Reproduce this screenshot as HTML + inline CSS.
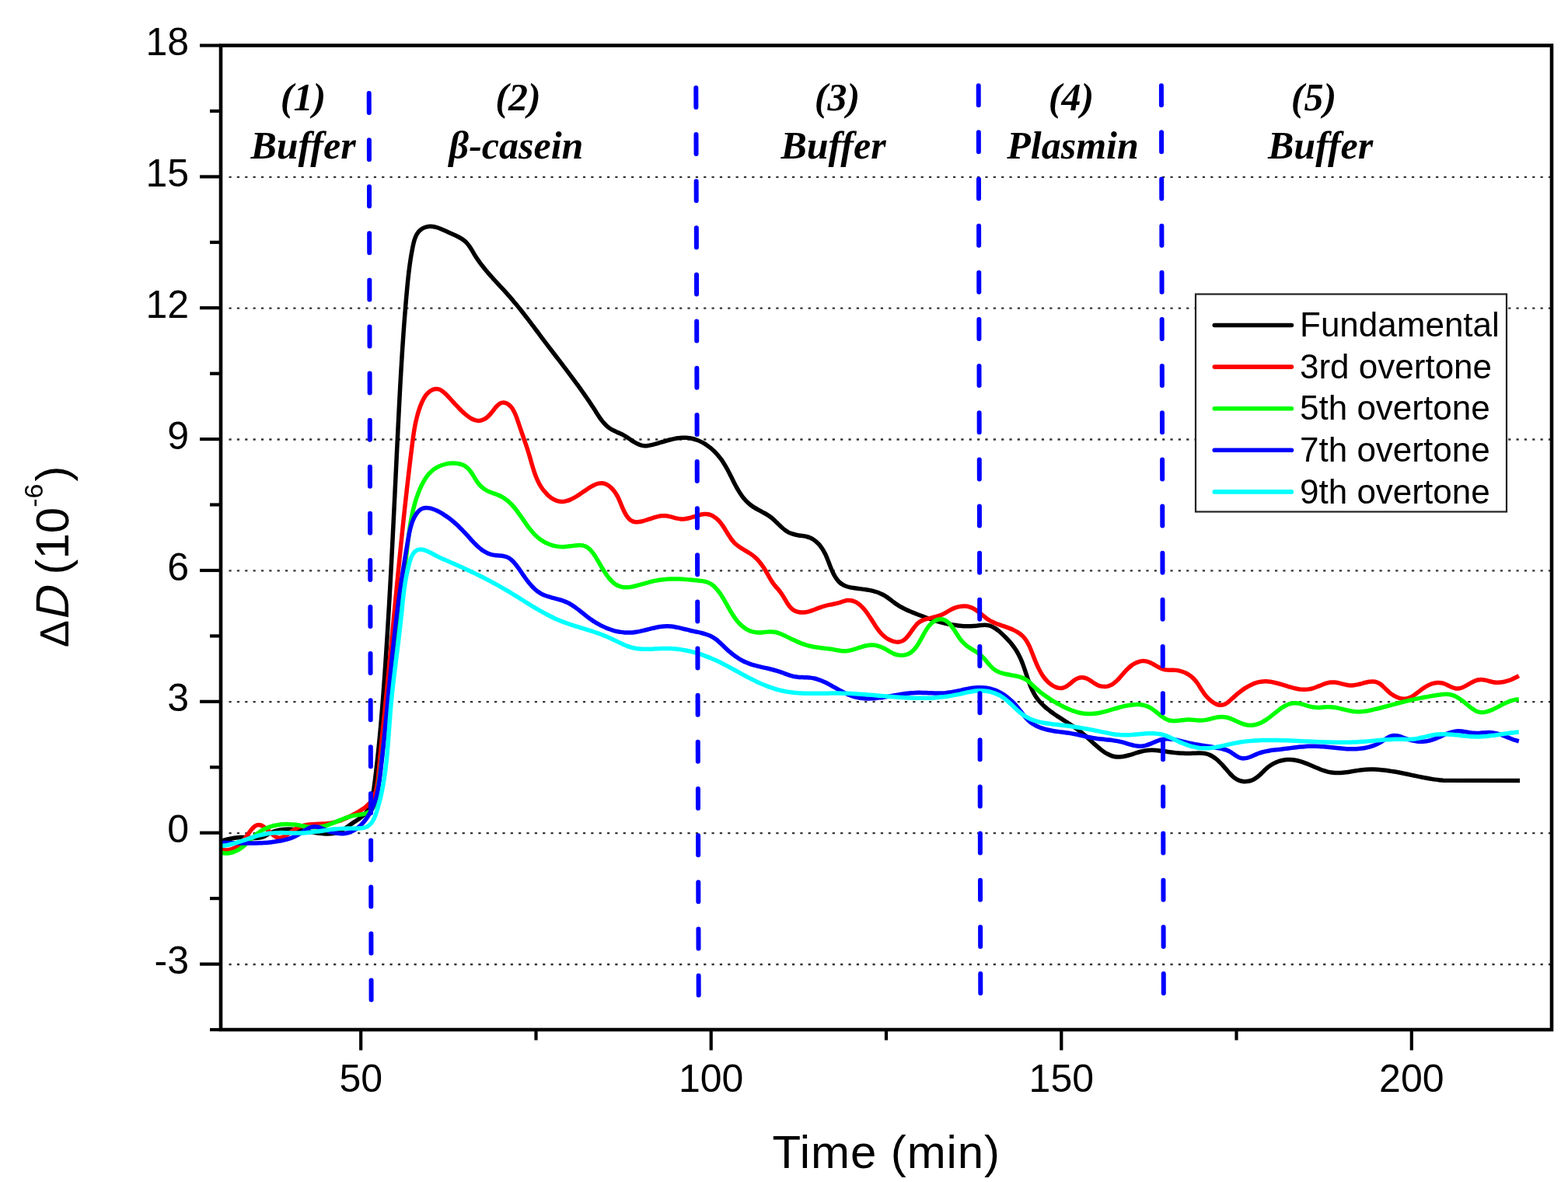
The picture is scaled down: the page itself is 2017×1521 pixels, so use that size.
<!DOCTYPE html><html><head><meta charset="utf-8"><style>html,body{margin:0;padding:0;background:#fff}svg{display:block}</style></head><body>
<svg width="2017" height="1521" viewBox="0 0 2017 1521">
<rect width="2017" height="1521" fill="#fff"/>
<line x1="294.5" y1="1241.0" x2="1994" y2="1241.0" stroke="#333" stroke-width="2.3" stroke-dasharray="3.2 7.15"/>
<line x1="294.5" y1="1072.1" x2="1994" y2="1072.1" stroke="#333" stroke-width="2.3" stroke-dasharray="3.2 7.15"/>
<line x1="294.5" y1="903.2" x2="1994" y2="903.2" stroke="#333" stroke-width="2.3" stroke-dasharray="3.2 7.15"/>
<line x1="294.5" y1="734.4" x2="1994" y2="734.4" stroke="#333" stroke-width="2.3" stroke-dasharray="3.2 7.15"/>
<line x1="294.5" y1="565.5" x2="1994" y2="565.5" stroke="#333" stroke-width="2.3" stroke-dasharray="3.2 7.15"/>
<line x1="294.5" y1="396.6" x2="1994" y2="396.6" stroke="#333" stroke-width="2.3" stroke-dasharray="3.2 7.15"/>
<line x1="294.5" y1="227.8" x2="1994" y2="227.8" stroke="#333" stroke-width="2.3" stroke-dasharray="3.2 7.15"/>
<path d="M284.22,1082.18C285.04,1081.96 287.47,1081.29 289.10,1080.88C290.73,1080.46 292.36,1080.05 294.00,1079.68C295.63,1079.32 297.27,1078.97 298.92,1078.67C300.56,1078.38 302.21,1078.12 303.87,1077.94C305.53,1077.75 307.19,1077.61 308.86,1077.55C310.53,1077.49 312.20,1077.53 313.88,1077.60C315.56,1077.66 317.25,1077.84 318.93,1077.97C320.61,1078.10 322.29,1078.28 323.96,1078.37C325.62,1078.46 327.28,1078.56 328.91,1078.52C330.55,1078.47 332.17,1078.38 333.76,1078.10C335.35,1077.82 336.92,1077.41 338.45,1076.83C339.99,1076.25 341.48,1075.41 342.98,1074.63C344.48,1073.85 345.96,1072.91 347.46,1072.16C348.96,1071.41 350.47,1070.71 352.01,1070.12C353.54,1069.54 355.08,1069.06 356.64,1068.65C358.20,1068.25 359.78,1067.94 361.36,1067.69C362.95,1067.44 364.55,1067.28 366.15,1067.17C367.76,1067.06 369.38,1067.02 371.01,1067.03C372.63,1067.03 374.27,1067.10 375.92,1067.20C377.56,1067.30 379.21,1067.46 380.87,1067.63C382.52,1067.81 384.19,1068.03 385.85,1068.26C387.52,1068.49 389.19,1068.76 390.86,1069.02C392.53,1069.29 394.21,1069.58 395.89,1069.85C397.56,1070.13 399.24,1070.42 400.92,1070.70C402.59,1070.97 404.27,1071.24 405.94,1071.48C407.62,1071.73 409.29,1071.96 410.96,1072.16C412.62,1072.35 414.29,1072.53 415.95,1072.66C417.61,1072.78 419.26,1072.89 420.91,1072.92C422.55,1072.94 424.19,1072.94 425.80,1072.81C427.41,1072.68 429.01,1072.49 430.57,1072.15C432.13,1071.80 433.65,1071.32 435.15,1070.73C436.65,1070.14 438.11,1069.40 439.57,1068.61C441.02,1067.81 442.45,1066.90 443.88,1065.97C445.31,1065.04 446.72,1064.03 448.14,1063.04C449.57,1062.04 450.99,1061.00 452.42,1060.00C453.86,1059.00 455.33,1058.03 456.77,1057.05C458.21,1056.08 459.67,1055.13 461.06,1054.15C462.45,1053.16 463.84,1052.18 465.11,1051.14C466.39,1050.09 467.63,1049.03 468.73,1047.88C469.84,1046.74 470.85,1045.53 471.76,1044.26C472.67,1042.99 473.48,1041.65 474.21,1040.27C474.95,1038.88 475.59,1037.44 476.17,1035.97C476.76,1034.49 477.26,1032.96 477.72,1031.41C478.18,1029.86 478.57,1028.26 478.93,1026.65C479.29,1025.03 479.59,1023.39 479.88,1021.73C480.17,1020.08 480.42,1018.40 480.66,1016.72C480.90,1015.04 481.12,1013.35 481.35,1011.67C481.57,1009.98 481.78,1008.29 482.00,1006.61C482.21,1004.92 482.43,1003.24 482.64,1001.56C482.84,999.87 483.05,998.19 483.25,996.51C483.46,994.83 483.66,993.15 483.86,991.47C484.05,989.79 484.25,988.11 484.44,986.43C484.63,984.76 484.82,983.08 485.01,981.40C485.20,979.73 485.38,978.05 485.56,976.38C485.75,974.70 485.93,973.03 486.10,971.35C486.28,969.68 486.46,968.01 486.63,966.33C486.80,964.66 486.97,962.99 487.14,961.32C487.31,959.65 487.47,957.98 487.64,956.31C487.80,954.64 487.96,952.97 488.12,951.30C488.28,949.63 488.44,947.96 488.60,946.29C488.75,944.62 488.91,942.96 489.06,941.29C489.21,939.62 489.36,937.96 489.51,936.29C489.66,934.62 489.80,932.96 489.95,931.29C490.09,929.62 490.24,927.96 490.38,926.29C490.52,924.63 490.66,922.96 490.80,921.30C490.94,919.63 491.08,917.97 491.21,916.31C491.35,914.64 491.48,912.98 491.62,911.31C491.75,909.65 491.88,907.99 492.01,906.32C492.14,904.66 492.27,902.99 492.40,901.33C492.53,899.67 492.65,898.00 492.78,896.34C492.91,894.68 493.03,893.01 493.16,891.35C493.28,889.69 493.40,888.02 493.53,886.36C493.65,884.70 493.77,883.03 493.89,881.37C494.01,879.71 494.13,878.04 494.25,876.38C494.37,874.71 494.49,873.05 494.61,871.39C494.72,869.72 494.84,868.06 494.96,866.39C495.07,864.73 495.19,863.06 495.30,861.40C495.42,859.73 495.53,858.07 495.65,856.40C495.76,854.74 495.87,853.07 495.99,851.41C496.10,849.74 496.21,848.08 496.32,846.41C496.43,844.75 496.54,843.08 496.65,841.42C496.76,839.75 496.87,838.09 496.98,836.42C497.09,834.75 497.19,833.09 497.30,831.42C497.41,829.76 497.52,828.09 497.62,826.42C497.73,824.76 497.83,823.09 497.94,821.43C498.04,819.76 498.15,818.09 498.25,816.43C498.35,814.76 498.46,813.09 498.56,811.43C498.66,809.76 498.76,808.09 498.87,806.42C498.97,804.76 499.07,803.09 499.17,801.42C499.27,799.76 499.37,798.09 499.47,796.42C499.57,794.75 499.67,793.09 499.76,791.42C499.86,789.75 499.96,788.08 500.06,786.42C500.16,784.75 500.25,783.08 500.35,781.41C500.45,779.74 500.54,778.08 500.64,776.41C500.73,774.74 500.83,773.07 500.92,771.40C501.02,769.73 501.11,768.07 501.20,766.40C501.30,764.73 501.39,763.06 501.48,761.39C501.58,759.72 501.67,758.05 501.76,756.39C501.85,754.72 501.95,753.05 502.04,751.38C502.13,749.71 502.22,748.04 502.31,746.37C502.40,744.70 502.49,743.03 502.58,741.36C502.67,739.69 502.76,738.02 502.85,736.36C502.94,734.69 503.03,733.02 503.12,731.35C503.20,729.68 503.29,728.01 503.38,726.34C503.47,724.67 503.55,723.00 503.64,721.33C503.73,719.66 503.82,717.99 503.90,716.32C503.99,714.65 504.08,712.98 504.16,711.31C504.25,709.64 504.33,707.97 504.42,706.30C504.50,704.63 504.59,702.96 504.67,701.29C504.76,699.62 504.84,697.94 504.93,696.27C505.01,694.60 505.10,692.93 505.18,691.26C505.26,689.59 505.35,687.92 505.43,686.25C505.52,684.58 505.60,682.91 505.68,681.24C505.77,679.57 505.85,677.89 505.93,676.22C506.01,674.55 506.10,672.88 506.18,671.21C506.26,669.54 506.34,667.87 506.43,666.20C506.51,664.53 506.59,662.85 506.67,661.18C506.75,659.51 506.84,657.84 506.92,656.17C507.00,654.50 507.08,652.83 507.16,651.15C507.24,649.48 507.32,647.81 507.41,646.14C507.49,644.47 507.57,642.80 507.65,641.12C507.73,639.45 507.81,637.78 507.89,636.11C507.97,634.44 508.05,632.76 508.13,631.09C508.22,629.42 508.30,627.75 508.38,626.08C508.46,624.40 508.54,622.73 508.62,621.06C508.70,619.39 508.78,617.72 508.86,616.04C508.94,614.37 509.02,612.70 509.10,611.03C509.18,609.35 509.26,607.68 509.34,606.01C509.42,604.34 509.50,602.66 509.58,600.99C509.66,599.32 509.75,597.65 509.83,595.97C509.91,594.30 509.99,592.63 510.07,590.96C510.15,589.28 510.23,587.61 510.31,585.94C510.39,584.27 510.47,582.59 510.55,580.92C510.63,579.25 510.72,577.58 510.80,575.90C510.88,574.23 510.96,572.56 511.04,570.89C511.12,569.21 511.20,567.54 511.28,565.87C511.37,564.19 511.45,562.52 511.53,560.85C511.61,559.18 511.69,557.50 511.78,555.83C511.86,554.16 511.94,552.48 512.02,550.81C512.11,549.14 512.19,547.47 512.27,545.79C512.35,544.12 512.44,542.45 512.52,540.77C512.60,539.10 512.69,537.43 512.77,535.76C512.86,534.08 512.94,532.41 513.03,530.74C513.11,529.07 513.20,527.39 513.28,525.72C513.37,524.05 513.45,522.38 513.54,520.70C513.63,519.03 513.71,517.36 513.80,515.69C513.89,514.01 513.97,512.34 514.06,510.67C514.15,509.00 514.24,507.33 514.33,505.66C514.42,503.98 514.51,502.31 514.60,500.64C514.69,498.97 514.78,497.30 514.87,495.63C514.97,493.96 515.06,492.29 515.15,490.62C515.25,488.95 515.34,487.28 515.43,485.61C515.53,483.94 515.63,482.27 515.72,480.60C515.82,478.93 515.92,477.26 516.01,475.59C516.11,473.92 516.21,472.25 516.31,470.58C516.41,468.92 516.51,467.25 516.61,465.58C516.71,463.91 516.82,462.24 516.92,460.58C517.02,458.91 517.13,457.24 517.23,455.58C517.34,453.91 517.45,452.24 517.55,450.58C517.66,448.91 517.77,447.25 517.88,445.58C517.99,443.92 518.10,442.25 518.21,440.59C518.32,438.92 518.44,437.26 518.55,435.59C518.67,433.93 518.78,432.27 518.90,430.60C519.02,428.94 519.13,427.28 519.25,425.62C519.37,423.95 519.49,422.29 519.62,420.63C519.74,418.97 519.86,417.31 519.99,415.65C520.11,413.99 520.24,412.33 520.36,410.67C520.49,409.01 520.62,407.35 520.75,405.70C520.88,404.04 521.01,402.38 521.15,400.72C521.28,399.07 521.41,397.41 521.55,395.75C521.69,394.10 521.82,392.44 521.96,390.79C522.10,389.13 522.24,387.48 522.39,385.82C522.53,384.17 522.67,382.52 522.82,380.86C522.97,379.21 523.11,377.56 523.26,375.91C523.41,374.26 523.56,372.61 523.72,370.96C523.87,369.30 524.03,367.65 524.19,366.00C524.35,364.35 524.51,362.70 524.68,361.05C524.85,359.39 525.03,357.74 525.21,356.08C525.39,354.42 525.58,352.76 525.77,351.10C525.97,349.44 526.17,347.77 526.38,346.10C526.59,344.43 526.81,342.76 527.04,341.08C527.28,339.40 527.52,337.72 527.77,336.03C528.02,334.34 528.28,332.64 528.56,330.94C528.84,329.24 529.13,327.54 529.43,325.82C529.73,324.11 530.05,322.39 530.38,320.66C530.72,318.94 531.05,317.18 531.43,315.46C531.82,313.75 532.21,312.01 532.68,310.35C533.16,308.69 533.67,307.04 534.29,305.50C534.91,303.97 535.59,302.48 536.41,301.13C537.23,299.78 538.15,298.51 539.21,297.41C540.26,296.30 541.46,295.32 542.74,294.50C544.01,293.68 545.42,293.00 546.85,292.49C548.29,291.98 549.82,291.62 551.36,291.45C552.90,291.27 554.49,291.28 556.07,291.43C557.66,291.58 559.26,291.94 560.87,292.37C562.48,292.80 564.10,293.39 565.72,294.01C567.34,294.64 568.96,295.37 570.58,296.09C572.20,296.82 573.82,297.61 575.42,298.34C577.03,299.08 578.64,299.80 580.22,300.51C581.80,301.22 583.38,301.89 584.91,302.60C586.44,303.31 587.95,304.01 589.40,304.77C590.86,305.53 592.28,306.30 593.63,307.16C594.98,308.02 596.28,308.91 597.50,309.93C598.73,310.94 599.88,312.02 600.95,313.22C602.03,314.42 603.00,315.75 603.96,317.11C604.91,318.47 605.79,319.94 606.67,321.39C607.56,322.84 608.41,324.36 609.29,325.83C610.18,327.30 611.07,328.76 611.99,330.20C612.91,331.63 613.86,333.04 614.82,334.43C615.78,335.83 616.76,337.19 617.76,338.55C618.76,339.90 619.78,341.24 620.81,342.56C621.84,343.88 622.88,345.18 623.94,346.47C625.00,347.76 626.07,349.04 627.15,350.31C628.23,351.57 629.32,352.83 630.42,354.08C631.52,355.32 632.63,356.56 633.74,357.80C634.86,359.03 635.98,360.26 637.10,361.48C638.22,362.70 639.35,363.92 640.48,365.14C641.60,366.36 642.74,367.58 643.86,368.79C644.99,370.01 646.12,371.23 647.24,372.45C648.37,373.68 649.49,374.90 650.60,376.13C651.72,377.37 652.83,378.60 653.93,379.85C655.04,381.09 656.13,382.35 657.22,383.61C658.31,384.87 659.39,386.13 660.46,387.41C661.54,388.68 662.61,389.97 663.67,391.25C664.73,392.54 665.79,393.83 666.84,395.13C667.89,396.43 668.93,397.74 669.98,399.05C671.02,400.35 672.05,401.67 673.09,402.99C674.12,404.30 675.15,405.63 676.17,406.95C677.20,408.28 678.22,409.61 679.24,410.94C680.25,412.27 681.27,413.60 682.28,414.94C683.30,416.27 684.31,417.61 685.32,418.95C686.32,420.29 687.33,421.63 688.34,422.97C689.34,424.32 690.35,425.66 691.35,427.00C692.36,428.34 693.36,429.68 694.37,431.03C695.37,432.37 696.38,433.71 697.38,435.05C698.39,436.39 699.39,437.72 700.40,439.06C701.41,440.40 702.42,441.73 703.43,443.06C704.43,444.39 705.45,445.72 706.46,447.05C707.47,448.38 708.48,449.71 709.50,451.03C710.51,452.36 711.52,453.68 712.54,455.01C713.55,456.33 714.56,457.65 715.58,458.98C716.59,460.30 717.61,461.62 718.62,462.95C719.63,464.27 720.65,465.59 721.66,466.91C722.67,468.24 723.68,469.56 724.69,470.88C725.70,472.21 726.71,473.53 727.71,474.86C728.72,476.19 729.73,477.51 730.73,478.84C731.73,480.17 732.73,481.50 733.73,482.83C734.73,484.17 735.73,485.50 736.72,486.84C737.72,488.18 738.71,489.52 739.70,490.86C740.69,492.20 741.67,493.55 742.65,494.90C743.64,496.24 744.61,497.60 745.59,498.95C746.57,500.31 747.54,501.67 748.50,503.03C749.47,504.39 750.44,505.76 751.39,507.13C752.35,508.50 753.31,509.88 754.26,511.26C755.21,512.64 756.15,514.02 757.09,515.41C758.03,516.81 758.97,518.20 759.90,519.60C760.83,521.00 761.75,522.41 762.67,523.82C763.59,525.24 764.50,526.66 765.41,528.08C766.32,529.50 767.21,530.94 768.13,532.36C769.04,533.77 769.95,535.19 770.90,536.57C771.84,537.95 772.80,539.32 773.80,540.63C774.80,541.94 775.83,543.23 776.92,544.44C778.00,545.66 779.13,546.83 780.33,547.92C781.53,549.00 782.79,550.03 784.12,550.96C785.46,551.89 786.89,552.71 788.36,553.49C789.83,554.28 791.39,554.97 792.94,555.69C794.49,556.41 796.09,557.07 797.66,557.82C799.23,558.57 800.81,559.33 802.34,560.18C803.87,561.03 805.36,561.98 806.84,562.92C808.32,563.86 809.76,564.88 811.22,565.83C812.67,566.79 814.11,567.77 815.57,568.65C817.02,569.53 818.48,570.40 819.96,571.10C821.44,571.80 822.94,572.45 824.44,572.87C825.94,573.29 827.45,573.54 828.96,573.63C830.47,573.73 831.99,573.61 833.52,573.43C835.05,573.26 836.58,572.92 838.14,572.58C839.70,572.23 841.28,571.79 842.87,571.35C844.46,570.92 846.07,570.44 847.69,569.96C849.32,569.49 850.95,568.99 852.60,568.50C854.25,568.02 855.90,567.52 857.56,567.06C859.22,566.59 860.89,566.13 862.56,565.72C864.23,565.30 865.90,564.91 867.57,564.57C869.24,564.24 870.91,563.94 872.57,563.72C874.23,563.49 875.88,563.32 877.53,563.24C879.17,563.16 880.81,563.14 882.43,563.22C884.05,563.31 885.66,563.48 887.26,563.73C888.85,563.99 890.43,564.33 891.98,564.75C893.54,565.16 895.08,565.66 896.60,566.23C898.12,566.79 899.62,567.44 901.09,568.14C902.56,568.85 904.01,569.63 905.43,570.46C906.86,571.30 908.25,572.20 909.62,573.15C910.99,574.10 912.32,575.12 913.63,576.18C914.93,577.23 916.21,578.35 917.45,579.51C918.68,580.66 919.89,581.87 921.06,583.11C922.22,584.35 923.35,585.63 924.44,586.95C925.53,588.26 926.58,589.62 927.59,590.99C928.60,592.37 929.56,593.78 930.49,595.21C931.42,596.64 932.30,598.10 933.17,599.57C934.03,601.04 934.86,602.53 935.67,604.03C936.49,605.52 937.27,607.04 938.05,608.55C938.83,610.06 939.59,611.59 940.35,613.10C941.11,614.62 941.86,616.14 942.62,617.65C943.37,619.16 944.13,620.67 944.90,622.15C945.67,623.64 946.44,625.12 947.24,626.58C948.03,628.04 948.84,629.48 949.68,630.89C950.52,632.31 951.38,633.70 952.28,635.06C953.18,636.42 954.11,637.75 955.08,639.04C956.06,640.33 957.07,641.58 958.13,642.79C959.19,644.00 960.30,645.17 961.47,646.29C962.64,647.41 963.86,648.48 965.15,649.50C966.44,650.51 967.80,651.46 969.20,652.38C970.61,653.30 972.09,654.15 973.58,655.00C975.07,655.85 976.62,656.66 978.14,657.49C979.67,658.32 981.23,659.13 982.75,659.99C984.26,660.84 985.79,661.70 987.25,662.63C988.71,663.56 990.14,664.52 991.51,665.55C992.87,666.59 994.17,667.70 995.44,668.83C996.71,669.96 997.91,671.15 999.12,672.32C1000.33,673.49 1001.51,674.70 1002.70,675.85C1003.89,677.00 1005.07,678.16 1006.29,679.23C1007.51,680.30 1008.73,681.35 1010.01,682.28C1011.30,683.21 1012.61,684.09 1014.01,684.82C1015.40,685.56 1016.86,686.17 1018.37,686.70C1019.88,687.23 1021.46,687.64 1023.05,688.01C1024.64,688.38 1026.28,688.65 1027.92,688.92C1029.55,689.19 1031.22,689.37 1032.84,689.64C1034.46,689.91 1036.10,690.12 1037.64,690.52C1039.19,690.92 1040.70,691.42 1042.13,692.04C1043.57,692.66 1044.94,693.41 1046.26,694.25C1047.57,695.09 1048.83,696.04 1050.03,697.08C1051.22,698.11 1052.36,699.25 1053.44,700.45C1054.52,701.65 1055.54,702.94 1056.51,704.29C1057.48,705.63 1058.38,707.05 1059.24,708.52C1060.09,709.98 1060.88,711.51 1061.63,713.06C1062.38,714.61 1063.07,716.22 1063.75,717.83C1064.43,719.44 1065.06,721.09 1065.70,722.72C1066.34,724.36 1066.96,726.02 1067.60,727.65C1068.24,729.29 1068.87,730.92 1069.54,732.52C1070.22,734.11 1070.90,735.70 1071.64,737.22C1072.39,738.75 1073.16,740.24 1074.02,741.67C1074.87,743.09 1075.77,744.47 1076.77,745.75C1077.76,747.04 1078.83,748.28 1080.00,749.36C1081.17,750.44 1082.44,751.40 1083.79,752.22C1085.14,753.04 1086.59,753.68 1088.10,754.25C1089.60,754.82 1091.19,755.25 1092.81,755.64C1094.42,756.03 1096.10,756.31 1097.78,756.58C1099.45,756.85 1101.18,757.04 1102.87,757.26C1104.57,757.47 1106.28,757.66 1107.97,757.87C1109.65,758.09 1111.32,758.31 1112.98,758.56C1114.63,758.81 1116.27,759.08 1117.88,759.39C1119.50,759.70 1121.10,760.04 1122.67,760.43C1124.25,760.83 1125.81,761.26 1127.34,761.76C1128.87,762.26 1130.38,762.81 1131.86,763.44C1133.35,764.06 1134.81,764.75 1136.24,765.53C1137.67,766.31 1139.06,767.18 1140.45,768.10C1141.83,769.01 1143.19,770.03 1144.54,771.03C1145.90,772.03 1147.24,773.10 1148.59,774.12C1149.95,775.13 1151.30,776.17 1152.68,777.13C1154.06,778.09 1155.45,779.02 1156.87,779.87C1158.29,780.73 1159.74,781.52 1161.20,782.28C1162.66,783.04 1164.14,783.74 1165.63,784.43C1167.12,785.12 1168.63,785.77 1170.15,786.42C1171.66,787.07 1173.19,787.71 1174.72,788.34C1176.26,788.97 1177.80,789.60 1179.34,790.22C1180.89,790.84 1182.44,791.45 1184.00,792.05C1185.56,792.65 1187.13,793.24 1188.70,793.82C1190.27,794.39 1191.85,794.96 1193.44,795.51C1195.02,796.06 1196.61,796.59 1198.20,797.11C1199.80,797.63 1201.40,798.14 1203.00,798.62C1204.60,799.11 1206.21,799.57 1207.82,800.02C1209.43,800.47 1211.05,800.90 1212.66,801.30C1214.28,801.70 1215.90,802.09 1217.53,802.45C1219.15,802.81 1220.78,803.14 1222.41,803.45C1224.04,803.76 1225.67,804.05 1227.30,804.30C1228.93,804.56 1230.57,804.79 1232.21,804.99C1233.84,805.18 1235.48,805.35 1237.13,805.48C1238.78,805.61 1240.43,805.71 1242.09,805.76C1243.75,805.82 1245.41,805.84 1247.09,805.81C1248.76,805.78 1250.44,805.71 1252.14,805.60C1253.83,805.48 1255.54,805.29 1257.25,805.11C1258.96,804.93 1260.69,804.65 1262.38,804.51C1264.06,804.37 1265.76,804.21 1267.39,804.26C1269.01,804.31 1270.61,804.45 1272.15,804.81C1273.68,805.17 1275.15,805.75 1276.58,806.42C1278.01,807.10 1279.39,807.97 1280.74,808.88C1282.09,809.79 1283.39,810.84 1284.68,811.90C1285.98,812.95 1287.24,814.08 1288.49,815.21C1289.74,816.34 1290.97,817.50 1292.18,818.67C1293.39,819.85 1294.57,821.06 1295.73,822.29C1296.88,823.52 1298.01,824.77 1299.11,826.05C1300.20,827.33 1301.27,828.64 1302.29,829.97C1303.32,831.30 1304.32,832.66 1305.27,834.04C1306.22,835.43 1307.13,836.84 1308.00,838.27C1308.86,839.71 1309.68,841.18 1310.46,842.67C1311.23,844.16 1311.96,845.68 1312.65,847.21C1313.35,848.75 1313.99,850.31 1314.62,851.88C1315.25,853.45 1315.84,855.05 1316.42,856.64C1317.00,858.24 1317.55,859.85 1318.10,861.46C1318.65,863.07 1319.18,864.70 1319.72,866.31C1320.26,867.92 1320.79,869.54 1321.33,871.15C1321.87,872.75 1322.41,874.36 1322.98,875.94C1323.54,877.53 1324.11,879.11 1324.72,880.67C1325.33,882.22 1325.95,883.77 1326.61,885.28C1327.27,886.80 1327.96,888.30 1328.70,889.76C1329.44,891.22 1330.22,892.66 1331.05,894.06C1331.88,895.46 1332.76,896.83 1333.70,898.16C1334.65,899.49 1335.65,900.78 1336.71,902.03C1337.76,903.28 1338.88,904.49 1340.04,905.67C1341.20,906.85 1342.41,908.00 1343.65,909.12C1344.89,910.23 1346.18,911.32 1347.49,912.38C1348.80,913.44 1350.14,914.48 1351.50,915.49C1352.87,916.50 1354.26,917.49 1355.65,918.47C1357.05,919.44 1358.47,920.39 1359.89,921.34C1361.30,922.28 1362.73,923.20 1364.15,924.12C1365.57,925.03 1366.99,925.94 1368.40,926.84C1369.81,927.74 1371.21,928.62 1372.59,929.51C1373.97,930.40 1375.32,931.29 1376.67,932.18C1378.01,933.07 1379.33,933.95 1380.64,934.86C1381.95,935.76 1383.25,936.67 1384.54,937.61C1385.83,938.54 1387.11,939.48 1388.38,940.46C1389.66,941.44 1390.93,942.43 1392.21,943.46C1393.48,944.50 1394.75,945.56 1396.04,946.66C1397.32,947.77 1398.60,948.92 1399.89,950.09C1401.19,951.27 1402.49,952.49 1403.80,953.70C1405.11,954.91 1406.43,956.15 1407.76,957.36C1409.09,958.56 1410.43,959.78 1411.78,960.94C1413.14,962.11 1414.50,963.26 1415.88,964.33C1417.26,965.41 1418.66,966.46 1420.07,967.41C1421.48,968.36 1422.90,969.26 1424.35,970.04C1425.79,970.82 1427.25,971.53 1428.73,972.10C1430.21,972.68 1431.70,973.16 1433.22,973.48C1434.74,973.80 1436.28,973.99 1437.84,974.05C1439.40,974.11 1440.98,974.01 1442.57,973.84C1444.16,973.66 1445.77,973.36 1447.39,973.02C1449.01,972.67 1450.65,972.23 1452.29,971.77C1453.93,971.31 1455.58,970.79 1457.23,970.28C1458.89,969.77 1460.55,969.22 1462.21,968.71C1463.86,968.21 1465.53,967.70 1467.18,967.26C1468.84,966.83 1470.50,966.41 1472.14,966.10C1473.79,965.79 1475.43,965.55 1477.07,965.40C1478.70,965.25 1480.33,965.20 1481.95,965.20C1483.57,965.21 1485.18,965.30 1486.80,965.41C1488.41,965.53 1490.02,965.72 1491.64,965.91C1493.25,966.11 1494.86,966.36 1496.48,966.59C1498.09,966.83 1499.71,967.10 1501.34,967.34C1502.96,967.58 1504.59,967.83 1506.23,968.04C1507.86,968.25 1509.51,968.45 1511.16,968.62C1512.81,968.79 1514.47,968.94 1516.14,969.06C1517.81,969.18 1519.48,969.28 1521.17,969.35C1522.85,969.42 1524.54,969.46 1526.24,969.48C1527.94,969.49 1529.65,969.48 1531.37,969.44C1533.09,969.40 1534.82,969.30 1536.54,969.24C1538.26,969.17 1540.00,969.06 1541.69,969.05C1543.39,969.04 1545.08,969.04 1546.71,969.18C1548.34,969.32 1549.95,969.52 1551.49,969.89C1553.03,970.26 1554.51,970.78 1555.95,971.40C1557.39,972.02 1558.78,972.78 1560.14,973.62C1561.50,974.46 1562.81,975.43 1564.10,976.45C1565.39,977.47 1566.64,978.60 1567.88,979.76C1569.12,980.93 1570.33,982.18 1571.54,983.45C1572.74,984.72 1573.93,986.05 1575.11,987.39C1576.30,988.73 1577.47,990.12 1578.66,991.47C1579.85,992.82 1581.04,994.21 1582.25,995.50C1583.47,996.79 1584.70,998.07 1585.98,999.20C1587.25,1000.33 1588.55,1001.40 1589.92,1002.27C1591.29,1003.15 1592.70,1003.90 1594.17,1004.44C1595.64,1004.99 1597.19,1005.34 1598.74,1005.54C1600.28,1005.74 1601.89,1005.75 1603.46,1005.61C1605.03,1005.48 1606.63,1005.17 1608.18,1004.73C1609.72,1004.28 1611.26,1003.68 1612.72,1002.94C1614.18,1002.21 1615.59,1001.31 1616.93,1000.33C1618.27,999.34 1619.52,998.19 1620.77,997.03C1622.02,995.88 1623.21,994.60 1624.44,993.39C1625.67,992.17 1626.87,990.90 1628.14,989.73C1629.42,988.57 1630.73,987.43 1632.10,986.40C1633.47,985.37 1634.91,984.42 1636.38,983.56C1637.85,982.69 1639.37,981.92 1640.91,981.23C1642.45,980.54 1644.04,979.94 1645.64,979.43C1647.23,978.93 1648.86,978.51 1650.49,978.19C1652.12,977.88 1653.77,977.65 1655.41,977.53C1657.05,977.40 1658.69,977.38 1660.32,977.45C1661.95,977.52 1663.57,977.71 1665.19,977.96C1666.80,978.22 1668.40,978.57 1670.00,978.98C1671.59,979.38 1673.18,979.87 1674.77,980.40C1676.35,980.92 1677.93,981.51 1679.50,982.11C1681.08,982.72 1682.65,983.37 1684.22,984.03C1685.79,984.68 1687.35,985.37 1688.92,986.04C1690.49,986.71 1692.05,987.40 1693.62,988.05C1695.19,988.71 1696.76,989.36 1698.33,989.96C1699.90,990.56 1701.48,991.15 1703.06,991.66C1704.64,992.18 1706.22,992.66 1707.81,993.06C1709.40,993.45 1711.00,993.79 1712.60,994.04C1714.21,994.29 1715.82,994.44 1717.44,994.53C1719.06,994.62 1720.69,994.62 1722.32,994.57C1723.96,994.52 1725.60,994.40 1727.24,994.25C1728.89,994.10 1730.54,993.89 1732.19,993.67C1733.85,993.45 1735.51,993.19 1737.17,992.93C1738.83,992.67 1740.50,992.39 1742.16,992.12C1743.83,991.86 1745.50,991.59 1747.16,991.35C1748.83,991.11 1750.50,990.89 1752.17,990.71C1753.84,990.53 1755.50,990.39 1757.17,990.28C1758.84,990.18 1760.50,990.12 1762.17,990.09C1763.83,990.06 1765.50,990.07 1767.16,990.11C1768.82,990.15 1770.49,990.22 1772.15,990.32C1773.81,990.42 1775.47,990.55 1777.13,990.70C1778.79,990.86 1780.45,991.04 1782.11,991.24C1783.77,991.44 1785.43,991.67 1787.08,991.91C1788.74,992.15 1790.40,992.41 1792.05,992.69C1793.71,992.97 1795.36,993.26 1797.02,993.56C1798.67,993.87 1800.32,994.19 1801.98,994.51C1803.63,994.84 1805.28,995.18 1806.93,995.52C1808.58,995.86 1810.23,996.20 1811.88,996.55C1813.53,996.90 1815.18,997.25 1816.83,997.60C1818.48,997.95 1820.13,998.31 1821.77,998.65C1823.42,999.00 1825.07,999.34 1826.71,999.67C1828.36,1000.01 1830.00,1000.33 1831.65,1000.65C1833.29,1000.96 1834.94,1001.27 1836.58,1001.56C1838.22,1001.85 1839.87,1002.13 1841.51,1002.39C1843.15,1002.65 1844.79,1002.90 1846.43,1003.12C1848.07,1003.34 1849.71,1003.54 1851.35,1003.72C1852.99,1003.90 1855.45,1004.10 1856.27,1004.18L1955,1004.5" fill="none" stroke="#000" stroke-width="5.5" stroke-linejoin="round" stroke-linecap="butt"/>
<path d="M283.75,1093.34C284.74,1093.44 287.84,1093.88 289.71,1093.90C291.57,1093.93 293.30,1093.77 294.94,1093.48C296.59,1093.19 298.11,1092.74 299.56,1092.18C301.02,1091.61 302.37,1090.90 303.67,1090.09C304.97,1089.29 306.19,1088.35 307.38,1087.33C308.57,1086.32 309.69,1085.19 310.80,1084.00C311.90,1082.81 312.96,1081.53 314.03,1080.20C315.09,1078.87 316.12,1077.47 317.18,1076.03C318.24,1074.60 319.28,1073.07 320.36,1071.61C321.44,1070.16 322.53,1068.62 323.66,1067.31C324.80,1066.01 325.94,1064.72 327.15,1063.79C328.35,1062.86 329.58,1062.06 330.87,1061.71C332.16,1061.37 333.52,1061.38 334.89,1061.73C336.27,1062.08 337.71,1062.92 339.10,1063.81C340.48,1064.70 341.85,1065.90 343.20,1067.07C344.55,1068.23 345.86,1069.59 347.19,1070.80C348.51,1072.01 349.81,1073.30 351.13,1074.34C352.45,1075.38 353.76,1076.38 355.10,1077.03C356.44,1077.67 357.79,1078.13 359.16,1078.20C360.54,1078.27 361.95,1077.95 363.37,1077.46C364.80,1076.96 366.25,1076.11 367.72,1075.23C369.19,1074.35 370.68,1073.22 372.19,1072.15C373.69,1071.09 375.22,1069.88 376.76,1068.84C378.31,1067.80 379.87,1066.77 381.43,1065.92C383.00,1065.07 384.59,1064.36 386.18,1063.75C387.78,1063.14 389.38,1062.66 390.99,1062.25C392.61,1061.84 394.23,1061.54 395.86,1061.28C397.48,1061.03 399.12,1060.86 400.75,1060.71C402.39,1060.57 404.03,1060.49 405.67,1060.41C407.32,1060.32 408.96,1060.29 410.60,1060.23C412.25,1060.17 413.89,1060.13 415.53,1060.04C417.17,1059.95 418.81,1059.87 420.44,1059.71C422.07,1059.56 423.69,1059.37 425.31,1059.11C426.93,1058.84 428.54,1058.51 430.14,1058.12C431.75,1057.72 433.34,1057.26 434.93,1056.75C436.52,1056.25 438.11,1055.68 439.68,1055.07C441.26,1054.47 442.83,1053.81 444.39,1053.13C445.96,1052.44 447.51,1051.72 449.06,1050.97C450.62,1050.22 452.17,1049.44 453.70,1048.65C455.24,1047.85 456.79,1047.04 458.30,1046.20C459.81,1045.36 461.31,1044.50 462.77,1043.60C464.22,1042.70 465.65,1041.77 467.02,1040.80C468.38,1039.83 469.71,1038.82 470.96,1037.77C472.20,1036.71 473.40,1035.61 474.49,1034.45C475.59,1033.29 476.61,1032.08 477.53,1030.80C478.45,1029.53 479.27,1028.19 480.01,1026.80C480.75,1025.42 481.39,1023.97 481.97,1022.48C482.55,1021.00 483.04,1019.46 483.48,1017.89C483.93,1016.33 484.30,1014.72 484.64,1013.09C484.98,1011.45 485.25,1009.79 485.51,1008.11C485.76,1006.43 485.97,1004.73 486.17,1003.02C486.36,1001.32 486.53,999.59 486.69,997.87C486.86,996.15 487.01,994.42 487.16,992.70C487.32,990.99 487.48,989.27 487.64,987.56C487.79,985.85 487.95,984.15 488.11,982.45C488.27,980.74 488.43,979.05 488.60,977.35C488.76,975.66 488.92,973.97 489.08,972.28C489.25,970.60 489.41,968.91 489.58,967.23C489.74,965.55 489.91,963.88 490.07,962.20C490.24,960.53 490.41,958.86 490.57,957.19C490.74,955.52 490.91,953.85 491.08,952.19C491.24,950.52 491.41,948.86 491.58,947.20C491.75,945.54 491.92,943.88 492.09,942.22C492.25,940.57 492.42,938.91 492.59,937.26C492.76,935.60 492.93,933.95 493.10,932.29C493.27,930.64 493.44,928.99 493.61,927.34C493.78,925.69 493.95,924.04 494.11,922.38C494.28,920.73 494.45,919.08 494.62,917.43C494.79,915.78 494.96,914.13 495.12,912.48C495.29,910.83 495.46,909.18 495.62,907.53C495.79,905.87 495.96,904.22 496.12,902.57C496.29,900.91 496.46,899.26 496.62,897.61C496.79,895.95 496.95,894.30 497.12,892.64C497.28,890.99 497.44,889.33 497.61,887.68C497.77,886.02 497.94,884.36 498.10,882.71C498.26,881.05 498.42,879.39 498.59,877.74C498.75,876.08 498.91,874.42 499.07,872.76C499.24,871.11 499.40,869.45 499.56,867.79C499.72,866.13 499.88,864.47 500.05,862.81C500.21,861.15 500.37,859.49 500.53,857.83C500.69,856.17 500.85,854.51 501.01,852.85C501.17,851.19 501.33,849.52 501.49,847.86C501.65,846.20 501.81,844.54 501.97,842.88C502.13,841.22 502.29,839.55 502.45,837.89C502.61,836.23 502.77,834.56 502.93,832.90C503.09,831.24 503.25,829.57 503.41,827.91C503.57,826.25 503.73,824.58 503.89,822.92C504.05,821.25 504.20,819.59 504.36,817.92C504.52,816.26 504.68,814.60 504.84,812.93C505.00,811.27 505.16,809.60 505.32,807.93C505.48,806.27 505.64,804.60 505.80,802.94C505.96,801.27 506.11,799.61 506.27,797.94C506.43,796.27 506.59,794.61 506.75,792.94C506.91,791.28 507.07,789.61 507.23,787.94C507.39,786.28 507.55,784.61 507.71,782.94C507.87,781.28 508.03,779.61 508.19,777.94C508.35,776.28 508.51,774.61 508.67,772.94C508.83,771.28 508.99,769.61 509.15,767.94C509.31,766.27 509.47,764.61 509.64,762.94C509.80,761.27 509.96,759.61 510.12,757.94C510.28,756.27 510.44,754.60 510.60,752.94C510.77,751.27 510.93,749.60 511.09,747.94C511.25,746.27 511.42,744.60 511.58,742.93C511.74,741.27 511.91,739.60 512.07,737.93C512.23,736.27 512.40,734.60 512.56,732.93C512.73,731.27 512.89,729.60 513.06,727.93C513.22,726.27 513.39,724.60 513.55,722.93C513.72,721.27 513.88,719.60 514.05,717.93C514.22,716.27 514.38,714.60 514.55,712.94C514.72,711.27 514.89,709.60 515.05,707.94C515.22,706.27 515.39,704.61 515.56,702.94C515.73,701.28 515.90,699.61 516.07,697.95C516.24,696.28 516.41,694.62 516.58,692.95C516.75,691.29 516.92,689.62 517.09,687.96C517.27,686.29 517.44,684.63 517.61,682.97C517.78,681.30 517.96,679.64 518.13,677.97C518.31,676.31 518.48,674.65 518.66,672.99C518.83,671.32 519.01,669.66 519.18,668.00C519.36,666.34 519.54,664.67 519.71,663.01C519.89,661.35 520.07,659.69 520.25,658.03C520.43,656.37 520.61,654.71 520.79,653.05C520.97,651.39 521.15,649.73 521.33,648.07C521.51,646.41 521.69,644.75 521.87,643.09C522.06,641.43 522.24,639.77 522.43,638.11C522.61,636.45 522.79,634.80 522.98,633.14C523.17,631.48 523.35,629.82 523.54,628.17C523.73,626.51 523.91,624.85 524.10,623.20C524.29,621.54 524.48,619.89 524.67,618.23C524.86,616.58 525.05,614.92 525.24,613.27C525.44,611.61 525.63,609.96 525.82,608.31C526.02,606.65 526.21,605.00 526.41,603.35C526.60,601.70 526.80,600.05 527.00,598.39C527.19,596.74 527.39,595.09 527.59,593.44C527.79,591.79 527.99,590.14 528.19,588.49C528.39,586.84 528.59,585.20 528.79,583.55C529.00,581.90 529.20,580.25 529.40,578.61C529.61,576.96 529.81,575.31 530.02,573.67C530.23,572.02 530.43,570.38 530.65,568.73C530.86,567.09 531.07,565.44 531.30,563.80C531.53,562.15 531.76,560.51 532.00,558.86C532.25,557.22 532.50,555.57 532.77,553.93C533.05,552.28 533.33,550.64 533.64,548.99C533.95,547.34 534.27,545.70 534.62,544.05C534.97,542.40 535.33,540.75 535.73,539.10C536.13,537.45 536.55,535.80 537.00,534.14C537.45,532.49 537.93,530.83 538.44,529.17C538.96,527.52 539.50,525.85 540.09,524.20C540.68,522.56 541.30,520.91 541.97,519.32C542.65,517.73 543.36,516.16 544.14,514.67C544.92,513.19 545.74,511.74 546.64,510.41C547.53,509.08 548.48,507.81 549.51,506.69C550.54,505.56 551.63,504.52 552.81,503.65C553.99,502.78 555.26,502.00 556.57,501.46C557.89,500.92 559.30,500.51 560.71,500.43C562.11,500.35 563.57,500.49 564.99,500.99C566.42,501.49 567.85,502.43 569.23,503.44C570.61,504.45 571.98,505.82 573.28,507.06C574.58,508.30 575.82,509.62 577.03,510.88C578.24,512.14 579.39,513.39 580.53,514.63C581.68,515.88 582.78,517.10 583.89,518.32C585.01,519.54 586.09,520.75 587.21,521.95C588.33,523.15 589.44,524.34 590.60,525.53C591.75,526.71 592.92,527.88 594.15,529.05C595.38,530.22 596.65,531.39 597.98,532.53C599.31,533.67 600.71,534.84 602.14,535.88C603.56,536.91 605.05,537.93 606.53,538.73C608.02,539.54 609.54,540.26 611.05,540.70C612.56,541.14 614.08,541.40 615.58,541.39C617.07,541.39 618.57,541.11 620.02,540.65C621.47,540.19 622.91,539.49 624.29,538.62C625.67,537.76 627.01,536.67 628.29,535.46C629.58,534.26 630.79,532.81 631.98,531.38C633.18,529.96 634.31,528.36 635.47,526.92C636.62,525.49 637.74,523.99 638.92,522.77C640.10,521.55 641.28,520.38 642.55,519.61C643.81,518.84 645.15,518.29 646.51,518.13C647.88,517.97 649.40,518.24 650.72,518.66C652.05,519.08 653.32,519.81 654.48,520.66C655.63,521.52 656.67,522.61 657.64,523.80C658.62,524.99 659.49,526.37 660.32,527.82C661.15,529.27 661.90,530.86 662.62,532.49C663.33,534.11 663.99,535.84 664.62,537.56C665.26,539.28 665.85,541.07 666.45,542.80C667.04,544.53 667.61,546.28 668.18,547.97C668.76,549.66 669.32,551.31 669.89,552.95C670.45,554.58 671.01,556.19 671.56,557.77C672.11,559.36 672.65,560.92 673.19,562.48C673.73,564.03 674.27,565.56 674.79,567.09C675.32,568.62 675.84,570.14 676.35,571.66C676.86,573.18 677.37,574.69 677.87,576.21C678.37,577.73 678.86,579.24 679.34,580.78C679.83,582.31 680.30,583.85 680.77,585.40C681.24,586.96 681.69,588.53 682.15,590.12C682.61,591.70 683.05,593.31 683.51,594.92C683.97,596.53 684.43,598.15 684.91,599.77C685.38,601.39 685.87,603.02 686.39,604.64C686.91,606.26 687.44,607.88 688.01,609.48C688.59,611.09 689.18,612.69 689.83,614.27C690.48,615.85 691.16,617.42 691.90,618.97C692.64,620.51 693.42,622.04 694.28,623.53C695.13,625.02 696.03,626.50 697.01,627.93C697.98,629.36 699.03,630.77 700.14,632.11C701.24,633.45 702.42,634.75 703.63,635.96C704.85,637.17 706.13,638.32 707.43,639.35C708.74,640.38 710.09,641.33 711.47,642.13C712.85,642.93 714.26,643.63 715.69,644.17C717.11,644.70 718.57,645.11 720.02,645.32C721.48,645.54 722.95,645.58 724.42,645.48C725.89,645.37 727.36,645.08 728.84,644.68C730.33,644.29 731.81,643.73 733.31,643.10C734.80,642.47 736.30,641.70 737.80,640.89C739.30,640.08 740.81,639.16 742.32,638.21C743.83,637.27 745.34,636.25 746.86,635.23C748.38,634.21 749.91,633.15 751.43,632.11C752.96,631.07 754.49,630.00 756.02,629.00C757.56,628.00 759.10,626.99 760.63,626.12C762.16,625.24 763.69,624.40 765.21,623.74C766.73,623.09 768.24,622.52 769.74,622.18C771.23,621.84 772.72,621.65 774.18,621.72C775.64,621.80 777.09,622.12 778.50,622.64C779.90,623.15 781.29,623.93 782.61,624.81C783.94,625.70 785.23,626.80 786.43,627.96C787.64,629.12 788.79,630.44 789.85,631.78C790.91,633.11 791.89,634.55 792.78,635.98C793.66,637.40 794.42,638.84 795.15,640.32C795.89,641.79 796.52,643.27 797.19,644.82C797.85,646.37 798.47,647.96 799.15,649.60C799.84,651.24 800.53,652.97 801.28,654.64C802.03,656.31 802.81,658.03 803.66,659.62C804.51,661.21 805.40,662.79 806.37,664.18C807.35,665.57 808.38,666.89 809.51,667.96C810.63,669.03 811.83,669.97 813.14,670.60C814.44,671.23 815.86,671.60 817.34,671.76C818.82,671.92 820.42,671.76 822.00,671.57C823.58,671.37 825.21,670.97 826.83,670.56C828.45,670.16 830.08,669.64 831.71,669.13C833.34,668.62 834.98,668.04 836.62,667.51C838.26,666.98 839.90,666.41 841.55,665.93C843.19,665.45 844.84,664.98 846.48,664.63C848.13,664.28 849.77,663.98 851.41,663.84C853.05,663.70 854.69,663.67 856.33,663.80C857.96,663.93 859.59,664.27 861.22,664.62C862.85,664.97 864.48,665.48 866.11,665.91C867.75,666.34 869.38,666.84 871.03,667.18C872.68,667.52 874.33,667.84 876.00,667.94C877.67,668.03 879.36,667.95 881.05,667.75C882.74,667.54 884.44,667.15 886.14,666.73C887.84,666.31 889.55,665.75 891.24,665.24C892.93,664.72 894.62,664.12 896.29,663.63C897.96,663.13 899.62,662.62 901.25,662.26C902.88,661.90 904.50,661.59 906.07,661.49C907.65,661.39 909.20,661.42 910.71,661.67C912.21,661.93 913.69,662.41 915.11,663.03C916.53,663.65 917.92,664.47 919.24,665.39C920.57,666.32 921.85,667.41 923.07,668.56C924.28,669.71 925.45,670.99 926.54,672.29C927.63,673.60 928.65,674.99 929.63,676.39C930.62,677.79 931.52,679.24 932.43,680.68C933.34,682.12 934.20,683.60 935.08,685.05C935.96,686.49 936.82,687.95 937.73,689.36C938.64,690.77 939.55,692.17 940.53,693.50C941.51,694.83 942.52,696.12 943.63,697.33C944.73,698.54 945.91,699.68 947.17,700.74C948.42,701.81 949.77,702.79 951.15,703.74C952.52,704.70 953.97,705.59 955.41,706.48C956.86,707.37 958.35,708.22 959.80,709.11C961.26,709.99 962.73,710.86 964.15,711.78C965.56,712.71 966.96,713.64 968.29,714.66C969.61,715.67 970.88,716.74 972.09,717.87C973.29,718.99 974.44,720.18 975.54,721.40C976.64,722.63 977.69,723.91 978.70,725.22C979.72,726.54 980.68,727.90 981.62,729.28C982.56,730.67 983.46,732.09 984.34,733.53C985.22,734.97 986.06,736.45 986.90,737.92C987.75,739.39 988.56,740.89 989.41,742.35C990.26,743.81 991.09,745.28 991.98,746.69C992.86,748.10 993.76,749.49 994.71,750.82C995.67,752.14 996.68,753.39 997.71,754.63C998.73,755.88 999.82,757.05 1000.87,758.30C1001.91,759.55 1002.98,760.78 1003.98,762.12C1004.98,763.46 1005.94,764.89 1006.87,766.36C1007.81,767.83 1008.68,769.41 1009.58,770.93C1010.49,772.46 1011.36,774.04 1012.31,775.51C1013.25,776.98 1014.19,778.45 1015.24,779.75C1016.28,781.05 1017.36,782.30 1018.57,783.33C1019.78,784.36 1021.09,785.24 1022.48,785.92C1023.87,786.61 1025.39,787.11 1026.92,787.46C1028.45,787.81 1030.07,787.98 1031.67,788.02C1033.28,788.05 1034.92,787.90 1036.53,787.66C1038.15,787.42 1039.77,787.01 1041.38,786.56C1042.99,786.12 1044.60,785.54 1046.21,784.97C1047.82,784.40 1049.42,783.75 1051.03,783.14C1052.63,782.53 1054.23,781.89 1055.84,781.33C1057.44,780.78 1059.04,780.25 1060.64,779.81C1062.25,779.36 1063.85,779.01 1065.46,778.66C1067.07,778.31 1068.68,778.03 1070.30,777.69C1071.93,777.36 1073.56,777.05 1075.21,776.65C1076.86,776.25 1078.53,775.78 1080.20,775.29C1081.87,774.79 1083.59,774.12 1085.25,773.67C1086.91,773.23 1088.57,772.76 1090.17,772.61C1091.77,772.46 1093.32,772.52 1094.82,772.76C1096.33,772.99 1097.78,773.46 1099.19,774.04C1100.60,774.63 1101.96,775.41 1103.28,776.29C1104.60,777.17 1105.87,778.21 1107.10,779.32C1108.33,780.42 1109.51,781.66 1110.65,782.93C1111.79,784.20 1112.89,785.56 1113.95,786.94C1115.01,788.32 1116.02,789.76 1117.01,791.20C1118.00,792.64 1118.96,794.12 1119.91,795.59C1120.86,797.06 1121.79,798.55 1122.72,800.02C1123.66,801.49 1124.58,802.96 1125.53,804.40C1126.48,805.84 1127.43,807.27 1128.42,808.64C1129.41,810.02 1130.41,811.37 1131.47,812.65C1132.53,813.93 1133.61,815.18 1134.76,816.33C1135.91,817.49 1137.09,818.60 1138.36,819.60C1139.63,820.60 1140.96,821.54 1142.37,822.36C1143.79,823.17 1145.30,823.93 1146.86,824.51C1148.41,825.09 1150.10,825.61 1151.72,825.86C1153.34,826.11 1155.03,826.23 1156.59,826.03C1158.15,825.83 1159.68,825.37 1161.08,824.65C1162.48,823.92 1163.77,822.84 1165.00,821.71C1166.22,820.57 1167.35,819.17 1168.44,817.82C1169.54,816.46 1170.54,814.98 1171.57,813.55C1172.59,812.12 1173.56,810.64 1174.59,809.25C1175.61,807.86 1176.62,806.46 1177.71,805.20C1178.81,803.94 1179.92,802.72 1181.16,801.69C1182.40,800.65 1183.72,799.75 1185.14,799.00C1186.56,798.25 1188.13,797.72 1189.70,797.20C1191.28,796.68 1192.95,796.31 1194.59,795.90C1196.23,795.48 1197.89,795.12 1199.52,794.70C1201.16,794.28 1202.79,793.86 1204.38,793.39C1205.98,792.92 1207.56,792.42 1209.10,791.85C1210.64,791.28 1212.15,790.66 1213.62,789.96C1215.09,789.25 1216.48,788.43 1217.90,787.61C1219.32,786.80 1220.67,785.86 1222.14,785.07C1223.60,784.27 1225.11,783.48 1226.69,782.84C1228.26,782.19 1229.92,781.63 1231.58,781.20C1233.24,780.76 1234.96,780.43 1236.65,780.25C1238.34,780.06 1240.06,779.99 1241.73,780.10C1243.39,780.20 1245.05,780.44 1246.63,780.86C1248.21,781.28 1249.74,781.89 1251.22,782.60C1252.70,783.32 1254.11,784.22 1255.51,785.15C1256.91,786.08 1258.26,787.15 1259.62,788.21C1260.97,789.27 1262.29,790.41 1263.63,791.50C1264.97,792.58 1266.29,793.71 1267.65,794.72C1269.01,795.74 1270.37,796.73 1271.78,797.61C1273.18,798.48 1274.61,799.26 1276.07,799.98C1277.52,800.71 1279.01,801.34 1280.51,801.96C1282.00,802.57 1283.53,803.12 1285.05,803.67C1286.58,804.22 1288.13,804.73 1289.68,805.26C1291.23,805.79 1292.79,806.31 1294.35,806.87C1295.91,807.43 1297.48,808.00 1299.02,808.62C1300.56,809.25 1302.11,809.90 1303.60,810.61C1305.09,811.32 1306.56,812.08 1307.96,812.90C1309.36,813.72 1310.73,814.59 1312.00,815.54C1313.28,816.50 1314.49,817.52 1315.60,818.62C1316.72,819.72 1317.73,820.91 1318.68,822.16C1319.64,823.41 1320.50,824.74 1321.32,826.11C1322.14,827.49 1322.89,828.93 1323.61,830.40C1324.33,831.88 1325.00,833.41 1325.66,834.96C1326.31,836.51 1326.93,838.11 1327.56,839.71C1328.19,841.31 1328.79,842.95 1329.42,844.58C1330.05,846.21 1330.69,847.85 1331.34,849.49C1332.00,851.12 1332.67,852.76 1333.38,854.37C1334.08,855.98 1334.80,857.59 1335.56,859.16C1336.32,860.72 1337.10,862.28 1337.93,863.78C1338.75,865.28 1339.61,866.75 1340.51,868.17C1341.42,869.58 1342.36,870.95 1343.36,872.25C1344.35,873.55 1345.39,874.80 1346.49,875.97C1347.60,877.13 1348.75,878.24 1349.96,879.24C1351.18,880.25 1352.45,881.19 1353.80,882.01C1355.14,882.83 1356.56,883.60 1358.00,884.16C1359.45,884.72 1360.96,885.19 1362.47,885.37C1363.97,885.55 1365.51,885.57 1367.01,885.25C1368.52,884.92 1370.01,884.26 1371.49,883.43C1372.96,882.60 1374.40,881.39 1375.86,880.26C1377.32,879.14 1378.76,877.78 1380.22,876.68C1381.69,875.58 1383.16,874.42 1384.67,873.65C1386.18,872.88 1387.73,872.33 1389.28,872.06C1390.83,871.79 1392.42,871.83 1393.99,872.06C1395.55,872.30 1397.13,872.80 1398.66,873.47C1400.20,874.14 1401.70,875.13 1403.19,876.08C1404.68,877.03 1406.12,878.26 1407.60,879.19C1409.09,880.12 1410.59,881.03 1412.11,881.68C1413.63,882.33 1415.19,882.81 1416.73,883.11C1418.26,883.40 1419.81,883.52 1421.32,883.47C1422.83,883.42 1424.33,883.19 1425.77,882.79C1427.21,882.39 1428.61,881.81 1429.95,881.08C1431.30,880.36 1432.57,879.44 1433.83,878.44C1435.08,877.44 1436.28,876.28 1437.48,875.09C1438.68,873.89 1439.84,872.58 1441.02,871.26C1442.19,869.95 1443.35,868.56 1444.54,867.21C1445.73,865.86 1446.92,864.47 1448.15,863.16C1449.39,861.85 1450.64,860.55 1451.95,859.36C1453.27,858.17 1454.63,857.04 1456.03,856.04C1457.44,855.04 1458.89,854.13 1460.36,853.37C1461.84,852.62 1463.35,851.98 1464.87,851.52C1466.38,851.06 1467.92,850.74 1469.45,850.63C1470.99,850.52 1472.53,850.58 1474.05,850.85C1475.58,851.13 1477.09,851.66 1478.60,852.26C1480.11,852.87 1481.60,853.69 1483.11,854.49C1484.62,855.29 1486.13,856.23 1487.65,857.06C1489.18,857.90 1490.70,858.79 1492.26,859.50C1493.82,860.21 1495.39,860.88 1497.00,861.32C1498.60,861.76 1500.25,861.97 1501.90,862.13C1503.55,862.29 1505.24,862.21 1506.91,862.25C1508.58,862.29 1510.27,862.24 1511.92,862.38C1513.58,862.52 1515.23,862.75 1516.84,863.10C1518.46,863.45 1520.05,863.93 1521.60,864.49C1523.14,865.06 1524.66,865.73 1526.11,866.49C1527.57,867.25 1528.98,868.12 1530.32,869.05C1531.66,869.99 1532.95,871.02 1534.16,872.12C1535.36,873.21 1536.49,874.40 1537.55,875.63C1538.61,876.86 1539.55,878.18 1540.50,879.52C1541.44,880.86 1542.30,882.27 1543.21,883.67C1544.11,885.08 1544.97,886.54 1545.92,887.97C1546.86,889.41 1547.80,890.87 1548.86,892.30C1549.92,893.72 1551.05,895.16 1552.27,896.51C1553.48,897.87 1554.80,899.22 1556.15,900.41C1557.51,901.61 1558.94,902.76 1560.38,903.70C1561.82,904.65 1563.32,905.49 1564.79,906.08C1566.27,906.68 1567.78,907.12 1569.25,907.27C1570.71,907.42 1572.18,907.35 1573.58,906.97C1574.99,906.60 1576.35,905.86 1577.70,905.02C1579.04,904.17 1580.34,903.02 1581.65,901.91C1582.96,900.79 1584.25,899.52 1585.57,898.34C1586.88,897.16 1588.21,895.97 1589.55,894.82C1590.88,893.68 1592.23,892.55 1593.60,891.46C1594.96,890.38 1596.33,889.32 1597.72,888.31C1599.11,887.31 1600.51,886.34 1601.93,885.43C1603.34,884.52 1604.77,883.66 1606.22,882.87C1607.66,882.08 1609.12,881.34 1610.60,880.69C1612.07,880.03 1613.56,879.44 1615.07,878.94C1616.58,878.44 1618.10,878.01 1619.64,877.68C1621.18,877.36 1622.74,877.11 1624.32,876.98C1625.89,876.84 1627.49,876.81 1629.10,876.87C1630.71,876.93 1632.34,877.10 1633.98,877.33C1635.62,877.56 1637.27,877.88 1638.94,878.24C1640.60,878.60 1642.27,879.03 1643.95,879.48C1645.63,879.93 1647.32,880.43 1649.01,880.93C1650.69,881.43 1652.39,881.97 1654.08,882.48C1655.77,882.98 1657.46,883.51 1659.14,883.99C1660.83,884.46 1662.51,884.94 1664.19,885.34C1665.86,885.75 1667.53,886.13 1669.18,886.43C1670.84,886.73 1672.48,886.98 1674.11,887.12C1675.74,887.27 1677.36,887.35 1678.96,887.30C1680.55,887.26 1682.13,887.10 1683.69,886.85C1685.26,886.59 1686.80,886.21 1688.34,885.77C1689.89,885.33 1691.42,884.79 1692.98,884.23C1694.53,883.67 1696.09,883.03 1697.67,882.41C1699.26,881.79 1700.87,881.10 1702.48,880.52C1704.09,879.94 1705.73,879.34 1707.36,878.91C1708.99,878.49 1710.63,878.12 1712.25,877.97C1713.88,877.82 1715.49,877.87 1717.11,878.02C1718.72,878.17 1720.32,878.54 1721.93,878.89C1723.54,879.24 1725.14,879.73 1726.75,880.13C1728.37,880.54 1729.98,881.00 1731.61,881.31C1733.25,881.62 1734.89,881.90 1736.55,881.97C1738.21,882.05 1739.89,881.95 1741.58,881.77C1743.26,881.58 1744.97,881.22 1746.66,880.86C1748.36,880.49 1750.06,880.01 1751.75,879.59C1753.43,879.16 1755.12,878.68 1756.78,878.30C1758.43,877.93 1760.08,877.55 1761.68,877.35C1763.29,877.14 1764.87,876.99 1766.41,877.06C1767.94,877.14 1769.45,877.33 1770.89,877.80C1772.34,878.26 1773.72,878.98 1775.08,879.88C1776.44,880.77 1777.72,881.98 1779.03,883.18C1780.34,884.37 1781.61,885.77 1782.93,887.04C1784.25,888.31 1785.59,889.63 1786.97,890.79C1788.35,891.95 1789.78,893.05 1791.22,894.02C1792.66,894.98 1794.14,895.86 1795.63,896.58C1797.12,897.30 1798.64,897.91 1800.16,898.35C1801.67,898.78 1803.21,899.08 1804.74,899.19C1806.27,899.29 1807.80,899.24 1809.33,898.97C1810.85,898.70 1812.37,898.22 1813.87,897.56C1815.37,896.91 1816.86,895.98 1818.34,895.02C1819.82,894.06 1821.28,892.90 1822.75,891.79C1824.21,890.69 1825.67,889.47 1827.12,888.38C1828.58,887.29 1830.03,886.22 1831.49,885.25C1832.95,884.29 1834.40,883.39 1835.86,882.60C1837.33,881.81 1838.79,881.10 1840.26,880.52C1841.73,879.95 1843.21,879.46 1844.70,879.13C1846.19,878.79 1847.69,878.57 1849.20,878.51C1850.71,878.45 1852.23,878.52 1853.77,878.77C1855.31,879.02 1856.86,879.43 1858.43,880.01C1860.00,880.58 1861.59,881.44 1863.19,882.19C1864.78,882.95 1866.40,883.91 1868.00,884.54C1869.59,885.17 1871.20,885.76 1872.78,885.96C1874.36,886.16 1875.93,886.03 1877.50,885.73C1879.06,885.44 1880.61,884.84 1882.16,884.18C1883.70,883.53 1885.24,882.66 1886.79,881.82C1888.33,880.99 1889.87,880.01 1891.42,879.16C1892.96,878.31 1894.51,877.40 1896.07,876.70C1897.63,876.00 1899.19,875.34 1900.77,874.96C1902.35,874.59 1903.94,874.41 1905.55,874.44C1907.16,874.47 1908.78,874.82 1910.42,875.16C1912.05,875.50 1913.69,876.06 1915.34,876.48C1916.99,876.90 1918.65,877.38 1920.31,877.67C1921.96,877.96 1923.63,878.14 1925.28,878.21C1926.94,878.28 1928.60,878.22 1930.24,878.07C1931.89,877.92 1933.53,877.65 1935.16,877.31C1936.79,876.96 1938.40,876.50 1940.00,875.98C1941.59,875.45 1943.18,874.82 1944.73,874.15C1946.29,873.47 1947.83,872.69 1949.34,871.94C1950.85,871.18 1953.05,870.00 1953.79,869.61" fill="none" stroke="#ff0000" stroke-width="5.5" stroke-linejoin="round" stroke-linecap="butt"/>
<path d="M283.78,1097.10C284.75,1097.24 287.72,1097.83 289.56,1097.94C291.40,1098.05 293.14,1097.96 294.82,1097.76C296.51,1097.55 298.11,1097.18 299.66,1096.70C301.21,1096.22 302.69,1095.60 304.13,1094.89C305.57,1094.19 306.95,1093.36 308.30,1092.48C309.66,1091.59 310.96,1090.60 312.25,1089.58C313.54,1088.56 314.79,1087.46 316.04,1086.35C317.29,1085.24 318.51,1084.07 319.75,1082.91C320.98,1081.75 322.19,1080.56 323.43,1079.40C324.67,1078.24 325.90,1077.07 327.16,1075.95C328.43,1074.84 329.70,1073.73 331.01,1072.71C332.33,1071.68 333.67,1070.69 335.05,1069.79C336.44,1068.89 337.87,1068.06 339.32,1067.31C340.78,1066.55 342.28,1065.86 343.80,1065.24C345.32,1064.62 346.88,1064.06 348.45,1063.57C350.03,1063.08 351.63,1062.66 353.25,1062.29C354.87,1061.93 356.52,1061.63 358.17,1061.38C359.82,1061.14 361.50,1060.95 363.17,1060.82C364.85,1060.69 366.54,1060.61 368.23,1060.59C369.92,1060.57 371.62,1060.60 373.32,1060.67C375.01,1060.75 376.71,1060.88 378.40,1061.06C380.09,1061.23 381.77,1061.46 383.45,1061.72C385.12,1061.98 386.78,1062.30 388.44,1062.60C390.09,1062.91 391.74,1063.26 393.37,1063.54C395.00,1063.83 396.63,1064.13 398.25,1064.34C399.86,1064.55 401.47,1064.73 403.07,1064.79C404.67,1064.85 406.26,1064.83 407.84,1064.71C409.43,1064.59 411.00,1064.36 412.57,1064.07C414.15,1063.78 415.71,1063.39 417.28,1062.97C418.85,1062.54 420.41,1062.03 421.98,1061.50C423.54,1060.97 425.10,1060.38 426.67,1059.77C428.24,1059.17 429.81,1058.52 431.39,1057.88C432.96,1057.23 434.54,1056.56 436.13,1055.91C437.72,1055.26 439.32,1054.60 440.92,1053.98C442.53,1053.36 444.14,1052.74 445.77,1052.18C447.40,1051.62 449.04,1051.08 450.70,1050.61C452.35,1050.14 454.02,1049.72 455.71,1049.37C457.40,1049.02 459.12,1048.79 460.81,1048.53C462.50,1048.27 464.22,1048.12 465.85,1047.83C467.47,1047.54 469.08,1047.27 470.55,1046.78C472.02,1046.30 473.43,1045.71 474.67,1044.93C475.92,1044.15 477.05,1043.19 478.04,1042.10C479.03,1041.02 479.88,1039.76 480.63,1038.42C481.39,1037.08 482.01,1035.60 482.57,1034.06C483.13,1032.52 483.58,1030.87 483.99,1029.19C484.40,1027.51 484.72,1025.75 485.03,1023.98C485.33,1022.22 485.58,1020.40 485.83,1018.62C486.07,1016.83 486.29,1015.03 486.52,1013.26C486.75,1011.49 486.97,1009.75 487.19,1008.01C487.41,1006.28 487.63,1004.57 487.85,1002.87C488.06,1001.17 488.28,999.48 488.49,997.81C488.70,996.13 488.91,994.47 489.12,992.81C489.33,991.15 489.53,989.51 489.74,987.87C489.94,986.22 490.14,984.59 490.34,982.96C490.54,981.32 490.74,979.69 490.94,978.06C491.14,976.43 491.34,974.80 491.53,973.17C491.73,971.53 491.92,969.90 492.11,968.26C492.30,966.62 492.49,964.98 492.68,963.34C492.87,961.70 493.06,960.06 493.25,958.42C493.44,956.77 493.63,955.13 493.81,953.48C494.00,951.83 494.18,950.19 494.37,948.54C494.55,946.89 494.73,945.23 494.92,943.58C495.10,941.93 495.28,940.27 495.46,938.62C495.65,936.96 495.83,935.31 496.01,933.65C496.19,931.99 496.37,930.33 496.55,928.67C496.73,927.01 496.90,925.35 497.08,923.69C497.26,922.03 497.44,920.36 497.62,918.70C497.80,917.04 497.98,915.37 498.15,913.71C498.33,912.04 498.51,910.37 498.69,908.71C498.87,907.04 499.04,905.37 499.22,903.71C499.40,902.04 499.58,900.37 499.76,898.70C499.93,897.03 500.11,895.36 500.29,893.69C500.47,892.02 500.65,890.35 500.83,888.68C501.01,887.01 501.19,885.34 501.37,883.66C501.55,881.99 501.73,880.32 501.92,878.65C502.10,876.98 502.28,875.31 502.46,873.64C502.65,871.96 502.83,870.29 503.02,868.62C503.20,866.95 503.39,865.28 503.57,863.60C503.76,861.93 503.95,860.26 504.14,858.59C504.32,856.92 504.51,855.25 504.71,853.58C504.90,851.91 505.09,850.24 505.28,848.57C505.48,846.90 505.67,845.23 505.87,843.56C506.06,841.89 506.26,840.22 506.46,838.56C506.66,836.89 506.86,835.22 507.06,833.56C507.26,831.89 507.46,830.23 507.67,828.56C507.87,826.90 508.08,825.23 508.29,823.57C508.50,821.91 508.71,820.25 508.92,818.59C509.13,816.92 509.35,815.26 509.56,813.61C509.78,811.95 509.99,810.29 510.21,808.63C510.43,806.97 510.65,805.32 510.87,803.66C511.09,802.00 511.31,800.35 511.53,798.69C511.75,797.04 511.98,795.38 512.20,793.73C512.42,792.07 512.65,790.42 512.87,788.76C513.10,787.11 513.33,785.46 513.55,783.80C513.78,782.15 514.00,780.50 514.23,778.85C514.46,777.19 514.68,775.54 514.91,773.89C515.14,772.24 515.36,770.58 515.59,768.93C515.81,767.28 516.04,765.63 516.27,763.97C516.49,762.32 516.72,760.67 516.94,759.02C517.17,757.36 517.39,755.71 517.62,754.06C517.84,752.40 518.06,750.75 518.28,749.09C518.51,747.44 518.73,745.79 518.95,744.13C519.17,742.48 519.38,740.82 519.60,739.16C519.82,737.51 520.04,735.85 520.25,734.19C520.46,732.54 520.68,730.88 520.89,729.22C521.10,727.56 521.31,725.90 521.52,724.24C521.73,722.58 521.93,720.92 522.14,719.26C522.34,717.60 522.54,715.93 522.74,714.27C522.94,712.60 523.14,710.94 523.33,709.27C523.53,707.61 523.72,705.94 523.92,704.27C524.11,702.61 524.30,700.94 524.50,699.27C524.70,697.60 524.90,695.94 525.10,694.27C525.30,692.60 525.51,690.94 525.72,689.28C525.94,687.61 526.15,685.95 526.38,684.29C526.61,682.63 526.85,680.97 527.09,679.31C527.34,677.66 527.59,676.01 527.86,674.36C528.13,672.71 528.41,671.06 528.70,669.42C529.00,667.77 529.30,666.14 529.63,664.50C529.95,662.87 530.29,661.24 530.65,659.61C531.01,657.99 531.38,656.37 531.78,654.75C532.17,653.14 532.59,651.53 533.03,649.92C533.46,648.32 533.92,646.72 534.40,645.13C534.89,643.54 535.39,641.96 535.93,640.39C536.46,638.81 537.02,637.24 537.60,635.68C538.19,634.12 538.80,632.57 539.45,631.02C540.09,629.48 540.76,627.94 541.47,626.41C542.17,624.89 542.91,623.37 543.69,621.88C544.47,620.39 545.28,618.92 546.16,617.49C547.03,616.07 547.94,614.67 548.92,613.33C549.90,611.99 550.93,610.69 552.04,609.47C553.15,608.24 554.31,607.07 555.56,605.99C556.81,604.90 558.14,603.89 559.53,602.97C560.93,602.05 562.41,601.21 563.93,600.46C565.46,599.71 567.05,599.05 568.67,598.49C570.29,597.92 571.97,597.45 573.64,597.07C575.32,596.70 577.04,596.42 578.75,596.24C580.45,596.06 582.18,595.97 583.88,596.00C585.57,596.03 587.27,596.15 588.91,596.42C590.54,596.68 592.16,597.05 593.68,597.58C595.19,598.11 596.67,598.77 598.02,599.59C599.37,600.41 600.62,601.41 601.78,602.52C602.95,603.63 603.99,604.93 605.01,606.26C606.03,607.59 606.96,609.06 607.89,610.51C608.83,611.96 609.71,613.50 610.63,614.97C611.55,616.45 612.45,617.96 613.43,619.36C614.40,620.76 615.39,622.13 616.47,623.37C617.55,624.62 618.70,625.77 619.90,626.83C621.11,627.89 622.38,628.85 623.71,629.73C625.03,630.62 626.42,631.41 627.87,632.13C629.31,632.85 630.83,633.46 632.37,634.05C633.91,634.63 635.54,635.08 637.11,635.64C638.67,636.19 640.25,636.72 641.74,637.38C643.24,638.03 644.68,638.77 646.08,639.57C647.47,640.37 648.82,641.24 650.12,642.18C651.42,643.11 652.67,644.11 653.89,645.17C655.10,646.22 656.27,647.34 657.41,648.50C658.55,649.67 659.65,650.88 660.72,652.13C661.80,653.38 662.84,654.68 663.87,656.00C664.90,657.31 665.90,658.67 666.90,660.04C667.90,661.40 668.87,662.80 669.85,664.20C670.83,665.59 671.79,667.01 672.77,668.41C673.74,669.82 674.71,671.24 675.69,672.63C676.68,674.03 677.66,675.43 678.67,676.80C679.68,678.17 680.70,679.53 681.75,680.85C682.80,682.17 683.87,683.48 684.97,684.73C686.08,685.98 687.21,687.21 688.38,688.38C689.55,689.55 690.76,690.68 692.02,691.74C693.27,692.80 694.57,693.81 695.93,694.75C697.28,695.69 698.68,696.57 700.12,697.37C701.57,698.18 703.06,698.92 704.58,699.58C706.10,700.23 707.67,700.82 709.26,701.33C710.85,701.83 712.48,702.26 714.13,702.61C715.78,702.95 717.46,703.21 719.16,703.38C720.85,703.55 722.58,703.64 724.31,703.63C726.04,703.62 727.79,703.49 729.54,703.33C731.29,703.16 733.05,702.88 734.79,702.64C736.52,702.41 738.25,702.11 739.93,701.94C741.60,701.76 743.27,701.57 744.85,701.57C746.43,701.57 747.98,701.62 749.43,701.91C750.89,702.20 752.27,702.66 753.58,703.30C754.89,703.94 756.11,704.78 757.29,705.73C758.46,706.69 759.57,707.82 760.64,709.02C761.72,710.23 762.74,711.57 763.73,712.96C764.73,714.35 765.69,715.85 766.63,717.36C767.58,718.87 768.50,720.46 769.43,722.02C770.36,723.59 771.27,725.19 772.19,726.76C773.11,728.34 774.03,729.92 774.97,731.47C775.90,733.01 776.84,734.56 777.80,736.04C778.76,737.52 779.73,738.99 780.73,740.37C781.73,741.76 782.75,743.11 783.80,744.37C784.85,745.63 785.93,746.83 787.05,747.92C788.17,749.02 789.32,750.04 790.52,750.94C791.72,751.84 792.96,752.64 794.26,753.31C795.56,753.98 796.90,754.53 798.30,754.94C799.71,755.34 801.17,755.59 802.69,755.72C804.20,755.86 805.79,755.83 807.40,755.72C809.01,755.62 810.68,755.38 812.36,755.09C814.05,754.80 815.78,754.41 817.52,754.00C819.25,753.58 821.02,753.09 822.79,752.60C824.55,752.11 826.33,751.57 828.10,751.06C829.87,750.55 831.65,750.03 833.40,749.55C835.15,749.08 836.89,748.63 838.61,748.23C840.32,747.83 842.02,747.48 843.70,747.17C845.39,746.85 847.05,746.58 848.71,746.34C850.36,746.10 852.00,745.90 853.64,745.73C855.27,745.56 856.89,745.42 858.51,745.32C860.13,745.21 861.74,745.14 863.35,745.09C864.96,745.04 866.56,745.03 868.17,745.03C869.77,745.03 871.38,745.06 872.99,745.11C874.60,745.16 876.21,745.23 877.83,745.32C879.45,745.40 881.08,745.51 882.71,745.63C884.35,745.75 886.00,745.88 887.66,746.03C889.32,746.18 890.99,746.34 892.67,746.50C894.36,746.67 896.07,746.83 897.79,747.02C899.51,747.21 901.27,747.37 902.97,747.64C904.68,747.91 906.40,748.18 908.02,748.63C909.63,749.09 911.21,749.63 912.66,750.36C914.12,751.08 915.48,751.99 916.76,752.98C918.05,753.97 919.24,755.12 920.38,756.30C921.52,757.48 922.58,758.77 923.61,760.06C924.64,761.36 925.61,762.70 926.55,764.06C927.49,765.43 928.39,766.82 929.27,768.24C930.15,769.65 931.00,771.09 931.85,772.54C932.69,773.99 933.51,775.47 934.34,776.94C935.17,778.41 935.99,779.90 936.83,781.38C937.67,782.86 938.50,784.35 939.37,785.82C940.25,787.29 941.13,788.77 942.05,790.22C942.98,791.67 943.93,793.13 944.93,794.53C945.92,795.94 946.95,797.33 948.03,798.65C949.11,799.98 950.23,801.28 951.40,802.49C952.56,803.70 953.78,804.87 955.04,805.93C956.31,807.00 957.63,808.00 959.00,808.88C960.38,809.77 961.82,810.56 963.30,811.23C964.78,811.91 966.33,812.47 967.89,812.91C969.46,813.34 971.08,813.66 972.71,813.84C974.34,814.02 976.01,814.03 977.67,813.99C979.33,813.95 981.02,813.76 982.69,813.61C984.37,813.47 986.05,813.23 987.71,813.12C989.37,813.01 991.03,812.89 992.65,812.95C994.28,813.02 995.88,813.19 997.45,813.51C999.02,813.83 1000.56,814.33 1002.09,814.87C1003.63,815.41 1005.13,816.09 1006.65,816.76C1008.16,817.43 1009.66,818.17 1011.17,818.89C1012.68,819.61 1014.20,820.36 1015.71,821.09C1017.23,821.81 1018.75,822.55 1020.27,823.27C1021.80,823.98 1023.33,824.70 1024.87,825.37C1026.42,826.05 1027.96,826.72 1029.52,827.34C1031.08,827.96 1032.65,828.56 1034.23,829.10C1035.81,829.65 1037.41,830.15 1039.01,830.60C1040.62,831.04 1042.24,831.43 1043.88,831.77C1045.51,832.12 1047.16,832.41 1048.81,832.68C1050.46,832.94 1052.13,833.17 1053.79,833.39C1055.46,833.61 1057.13,833.81 1058.81,834.01C1060.48,834.21 1062.16,834.40 1063.83,834.62C1065.50,834.84 1067.18,835.05 1068.84,835.31C1070.51,835.56 1072.17,835.86 1073.82,836.15C1075.48,836.45 1077.13,836.80 1078.78,837.05C1080.43,837.31 1082.07,837.57 1083.72,837.67C1085.38,837.77 1087.03,837.79 1088.69,837.65C1090.36,837.52 1092.03,837.22 1093.69,836.87C1095.36,836.52 1097.04,836.03 1098.70,835.55C1100.37,835.06 1102.04,834.48 1103.70,833.95C1105.36,833.41 1107.02,832.83 1108.66,832.34C1110.30,831.84 1111.94,831.35 1113.55,830.98C1115.17,830.61 1116.78,830.30 1118.37,830.14C1119.95,829.99 1121.52,829.95 1123.07,830.05C1124.62,830.15 1126.16,830.38 1127.68,830.72C1129.20,831.06 1130.71,831.52 1132.20,832.07C1133.70,832.61 1135.19,833.27 1136.67,834.00C1138.15,834.73 1139.61,835.59 1141.08,836.43C1142.56,837.28 1144.02,838.26 1145.53,839.09C1147.04,839.91 1148.56,840.77 1150.15,841.40C1151.73,842.02 1153.40,842.52 1155.05,842.83C1156.70,843.14 1158.42,843.28 1160.07,843.25C1161.72,843.21 1163.38,843.01 1164.94,842.63C1166.49,842.26 1167.99,841.70 1169.38,840.98C1170.77,840.27 1172.05,839.36 1173.27,838.35C1174.49,837.34 1175.61,836.17 1176.69,834.92C1177.77,833.68 1178.77,832.29 1179.74,830.87C1180.72,829.45 1181.63,827.92 1182.54,826.38C1183.45,824.85 1184.31,823.24 1185.19,821.64C1186.06,820.05 1186.91,818.42 1187.79,816.84C1188.67,815.26 1189.54,813.66 1190.46,812.15C1191.38,810.63 1192.31,809.14 1193.30,807.76C1194.30,806.38 1195.32,805.04 1196.42,803.85C1197.53,802.66 1198.68,801.55 1199.93,800.62C1201.17,799.68 1202.52,798.85 1203.89,798.24C1205.27,797.63 1206.73,797.15 1208.16,796.95C1209.59,796.74 1211.08,796.71 1212.48,796.98C1213.89,797.26 1215.29,797.82 1216.61,798.58C1217.93,799.35 1219.20,800.45 1220.40,801.59C1221.60,802.74 1222.74,804.11 1223.82,805.47C1224.91,806.83 1225.91,808.29 1226.91,809.75C1227.90,811.20 1228.83,812.71 1229.78,814.20C1230.73,815.68 1231.65,817.19 1232.61,818.63C1233.58,820.08 1234.54,821.52 1235.57,822.87C1236.59,824.22 1237.65,825.53 1238.79,826.72C1239.94,827.92 1241.16,829.01 1242.43,830.04C1243.70,831.07 1245.05,832.00 1246.41,832.93C1247.77,833.85 1249.19,834.70 1250.59,835.58C1251.99,836.46 1253.43,837.30 1254.82,838.21C1256.22,839.11 1257.62,840.02 1258.96,841.01C1260.30,842.01 1261.61,843.05 1262.85,844.20C1264.09,845.35 1265.26,846.62 1266.41,847.90C1267.56,849.19 1268.64,850.57 1269.75,851.90C1270.86,853.23 1271.94,854.61 1273.07,855.88C1274.21,857.15 1275.34,858.42 1276.57,859.52C1277.80,860.62 1279.07,861.64 1280.44,862.50C1281.80,863.37 1283.25,864.08 1284.74,864.71C1286.24,865.35 1287.81,865.85 1289.40,866.31C1290.99,866.78 1292.64,867.14 1294.29,867.49C1295.94,867.85 1297.63,868.14 1299.31,868.45C1300.98,868.77 1302.68,869.04 1304.35,869.37C1306.01,869.71 1307.68,870.03 1309.29,870.45C1310.91,870.87 1312.51,871.31 1314.04,871.87C1315.57,872.43 1317.07,873.06 1318.48,873.82C1319.90,874.59 1321.23,875.50 1322.52,876.48C1323.81,877.46 1325.02,878.59 1326.24,879.70C1327.45,880.82 1328.62,882.03 1329.82,883.18C1331.03,884.32 1332.23,885.48 1333.47,886.58C1334.70,887.69 1335.96,888.77 1337.24,889.82C1338.52,890.87 1339.82,891.89 1341.13,892.89C1342.45,893.89 1343.79,894.86 1345.14,895.82C1346.50,896.77 1347.87,897.70 1349.26,898.62C1350.66,899.53 1352.07,900.42 1353.49,901.30C1354.92,902.18 1356.36,903.04 1357.81,903.89C1359.27,904.74 1360.74,905.58 1362.23,906.39C1363.72,907.21 1365.22,908.01 1366.73,908.78C1368.24,909.55 1369.77,910.30 1371.30,911.00C1372.84,911.71 1374.39,912.40 1375.94,913.03C1377.50,913.66 1379.07,914.26 1380.64,914.81C1382.22,915.35 1383.80,915.86 1385.39,916.30C1386.98,916.74 1388.57,917.13 1390.17,917.46C1391.78,917.78 1393.38,918.05 1394.99,918.24C1396.60,918.43 1398.22,918.56 1399.83,918.60C1401.45,918.65 1403.07,918.61 1404.69,918.51C1406.31,918.42 1407.93,918.24 1409.56,918.02C1411.18,917.80 1412.81,917.51 1414.45,917.19C1416.08,916.87 1417.71,916.49 1419.35,916.10C1420.99,915.70 1422.64,915.26 1424.29,914.81C1425.93,914.36 1427.59,913.88 1429.24,913.41C1430.90,912.93 1432.56,912.43 1434.23,911.95C1435.89,911.47 1437.57,910.98 1439.24,910.52C1440.91,910.06 1442.59,909.60 1444.27,909.19C1445.94,908.78 1447.62,908.38 1449.28,908.05C1450.95,907.71 1452.61,907.41 1454.26,907.17C1455.91,906.94 1457.56,906.75 1459.18,906.65C1460.81,906.55 1462.42,906.50 1464.02,906.56C1465.61,906.62 1467.19,906.75 1468.74,906.99C1470.30,907.23 1471.83,907.56 1473.34,908.02C1474.84,908.48 1476.32,909.04 1477.77,909.74C1479.22,910.43 1480.63,911.28 1482.02,912.20C1483.42,913.12 1484.78,914.20 1486.14,915.26C1487.51,916.32 1488.85,917.47 1490.21,918.56C1491.57,919.65 1492.92,920.78 1494.30,921.78C1495.69,922.78 1497.08,923.77 1498.51,924.58C1499.95,925.38 1501.41,926.11 1502.93,926.61C1504.44,927.11 1506.01,927.41 1507.62,927.57C1509.23,927.73 1510.89,927.66 1512.56,927.57C1514.23,927.48 1515.94,927.24 1517.64,927.06C1519.34,926.87 1521.05,926.63 1522.75,926.47C1524.44,926.31 1526.14,926.16 1527.82,926.11C1529.50,926.07 1531.18,926.12 1532.84,926.20C1534.51,926.29 1536.16,926.50 1537.81,926.63C1539.46,926.76 1541.10,926.94 1542.75,926.99C1544.40,927.03 1546.04,927.02 1547.69,926.87C1549.34,926.72 1550.99,926.42 1552.64,926.09C1554.29,925.77 1555.95,925.32 1557.60,924.92C1559.25,924.52 1560.90,924.06 1562.55,923.70C1564.20,923.33 1565.84,922.96 1567.48,922.74C1569.13,922.53 1570.76,922.36 1572.39,922.40C1574.02,922.43 1575.65,922.63 1577.26,922.97C1578.88,923.30 1580.49,923.83 1582.09,924.40C1583.69,924.96 1585.29,925.67 1586.88,926.37C1588.47,927.06 1590.05,927.84 1591.63,928.55C1593.21,929.26 1594.78,930.01 1596.35,930.63C1597.92,931.24 1599.49,931.84 1601.04,932.26C1602.60,932.68 1604.16,932.99 1605.71,933.15C1607.26,933.31 1608.80,933.31 1610.33,933.21C1611.87,933.10 1613.39,932.86 1614.91,932.51C1616.42,932.17 1617.92,931.70 1619.41,931.13C1620.89,930.57 1622.37,929.90 1623.82,929.14C1625.28,928.39 1626.71,927.52 1628.13,926.61C1629.55,925.69 1630.95,924.68 1632.35,923.64C1633.74,922.61 1635.11,921.51 1636.49,920.41C1637.87,919.32 1639.23,918.19 1640.60,917.09C1641.98,915.99 1643.34,914.88 1644.72,913.84C1646.10,912.80 1647.48,911.77 1648.88,910.83C1650.28,909.90 1651.68,909.01 1653.11,908.24C1654.54,907.48 1655.98,906.78 1657.45,906.24C1658.92,905.69 1660.41,905.25 1661.94,904.98C1663.47,904.72 1665.02,904.60 1666.61,904.66C1668.20,904.71 1669.83,904.98 1671.47,905.31C1673.12,905.63 1674.80,906.14 1676.48,906.61C1678.16,907.09 1679.87,907.67 1681.57,908.15C1683.27,908.64 1684.98,909.16 1686.67,909.52C1688.37,909.87 1690.06,910.15 1691.73,910.30C1693.40,910.44 1695.05,910.42 1696.70,910.38C1698.35,910.35 1699.98,910.19 1701.61,910.09C1703.24,909.98 1704.86,909.82 1706.48,909.76C1708.11,909.70 1709.72,909.67 1711.34,909.75C1712.96,909.83 1714.57,910.02 1716.19,910.25C1717.81,910.48 1719.43,910.80 1721.05,911.14C1722.67,911.47 1724.29,911.87 1725.92,912.26C1727.54,912.64 1729.17,913.07 1730.80,913.45C1732.44,913.83 1734.07,914.22 1735.71,914.55C1737.35,914.87 1738.99,915.19 1740.64,915.40C1742.29,915.62 1743.95,915.79 1745.61,915.85C1747.27,915.91 1748.93,915.88 1750.60,915.79C1752.27,915.70 1753.94,915.52 1755.62,915.29C1757.29,915.07 1758.96,914.78 1760.63,914.47C1762.30,914.15 1763.97,913.78 1765.63,913.41C1767.30,913.03 1768.96,912.62 1770.61,912.22C1772.26,911.81 1773.91,911.40 1775.55,910.98C1777.19,910.56 1778.82,910.13 1780.45,909.70C1782.08,909.27 1783.71,908.83 1785.33,908.40C1786.95,907.96 1788.56,907.53 1790.18,907.09C1791.79,906.66 1793.40,906.22 1795.01,905.79C1796.62,905.36 1798.22,904.93 1799.82,904.51C1801.42,904.10 1803.03,903.68 1804.62,903.27C1806.22,902.87 1807.82,902.47 1809.42,902.09C1811.02,901.70 1812.62,901.33 1814.22,900.96C1815.82,900.59 1817.42,900.24 1819.02,899.89C1820.63,899.54 1822.24,899.21 1823.85,898.88C1825.47,898.55 1827.09,898.22 1828.72,897.91C1830.35,897.59 1831.98,897.29 1833.63,896.99C1835.28,896.68 1836.93,896.39 1838.60,896.10C1840.27,895.81 1841.95,895.53 1843.65,895.25C1845.34,894.97 1847.06,894.69 1848.78,894.43C1850.50,894.17 1852.25,893.88 1853.97,893.70C1855.69,893.51 1857.43,893.33 1859.11,893.30C1860.79,893.27 1862.46,893.31 1864.06,893.53C1865.66,893.75 1867.21,894.12 1868.71,894.61C1870.22,895.10 1871.66,895.75 1873.09,896.47C1874.51,897.20 1875.89,898.05 1877.26,898.95C1878.63,899.86 1879.97,900.86 1881.31,901.88C1882.65,902.90 1883.96,904.00 1885.29,905.09C1886.63,906.18 1887.95,907.32 1889.29,908.41C1890.64,909.49 1891.99,910.62 1893.37,911.60C1894.75,912.59 1896.14,913.55 1897.56,914.31C1898.99,915.07 1900.44,915.74 1901.92,916.15C1903.40,916.56 1904.93,916.77 1906.47,916.77C1908.02,916.78 1909.61,916.52 1911.19,916.18C1912.78,915.83 1914.39,915.29 1915.98,914.70C1917.57,914.12 1919.17,913.39 1920.75,912.67C1922.33,911.95 1923.89,911.15 1925.45,910.36C1927.01,909.57 1928.55,908.74 1930.10,907.95C1931.64,907.15 1933.18,906.34 1934.73,905.58C1936.28,904.83 1937.82,904.09 1939.38,903.43C1940.94,902.78 1942.50,902.16 1944.09,901.65C1945.67,901.15 1947.26,900.71 1948.88,900.40C1950.49,900.10 1952.96,899.93 1953.78,899.84" fill="none" stroke="#00ff00" stroke-width="5.5" stroke-linejoin="round" stroke-linecap="butt"/>
<path d="M284.18,1084.57C285.02,1084.57 287.53,1084.57 289.21,1084.58C290.88,1084.59 292.56,1084.61 294.23,1084.63C295.91,1084.65 297.58,1084.68 299.25,1084.71C300.93,1084.73 302.60,1084.77 304.27,1084.79C305.94,1084.82 307.61,1084.85 309.28,1084.88C310.96,1084.90 312.63,1084.93 314.30,1084.95C315.96,1084.96 317.63,1084.98 319.30,1084.98C320.97,1084.98 322.64,1084.98 324.30,1084.97C325.97,1084.95 327.63,1084.93 329.30,1084.89C330.96,1084.85 332.62,1084.80 334.28,1084.74C335.95,1084.67 337.61,1084.59 339.26,1084.49C340.92,1084.39 342.58,1084.28 344.24,1084.14C345.89,1084.00 347.55,1083.85 349.20,1083.67C350.85,1083.49 352.50,1083.29 354.15,1083.06C355.80,1082.83 357.45,1082.59 359.10,1082.30C360.74,1082.02 362.39,1081.72 364.02,1081.37C365.66,1081.01 367.29,1080.63 368.91,1080.18C370.52,1079.73 372.13,1079.24 373.72,1078.68C375.31,1078.11 376.89,1077.49 378.44,1076.78C379.99,1076.07 381.53,1075.28 383.04,1074.41C384.55,1073.55 386.03,1072.55 387.50,1071.60C388.98,1070.64 390.43,1069.60 391.88,1068.68C393.34,1067.77 394.78,1066.83 396.24,1066.10C397.70,1065.37 399.16,1064.69 400.64,1064.28C402.13,1063.87 403.62,1063.62 405.15,1063.65C406.67,1063.68 408.23,1064.02 409.80,1064.45C411.37,1064.87 412.97,1065.56 414.58,1066.20C416.18,1066.83 417.81,1067.61 419.43,1068.26C421.05,1068.90 422.69,1069.54 424.32,1070.07C425.95,1070.60 427.58,1071.07 429.21,1071.44C430.83,1071.82 432.46,1072.12 434.07,1072.32C435.68,1072.52 437.28,1072.65 438.87,1072.66C440.45,1072.67 442.03,1072.59 443.58,1072.40C445.13,1072.20 446.67,1071.90 448.17,1071.48C449.68,1071.06 451.17,1070.52 452.62,1069.86C454.07,1069.21 455.50,1068.41 456.89,1067.53C458.28,1066.64 459.64,1065.64 460.95,1064.57C462.26,1063.49 463.53,1062.32 464.75,1061.10C465.98,1059.87 467.16,1058.57 468.28,1057.23C469.40,1055.90 470.48,1054.50 471.49,1053.10C472.50,1051.69 473.45,1050.25 474.35,1048.80C475.24,1047.35 476.07,1045.88 476.85,1044.39C477.64,1042.91 478.36,1041.41 479.04,1039.89C479.72,1038.38 480.35,1036.85 480.93,1035.31C481.52,1033.77 482.06,1032.21 482.57,1030.64C483.07,1029.08 483.53,1027.50 483.96,1025.91C484.39,1024.33 484.79,1022.73 485.16,1021.12C485.53,1019.52 485.86,1017.90 486.17,1016.28C486.49,1014.66 486.78,1013.03 487.05,1011.39C487.32,1009.76 487.57,1008.12 487.80,1006.47C488.04,1004.83 488.26,1003.18 488.47,1001.53C488.68,999.87 488.88,998.22 489.08,996.56C489.28,994.91 489.47,993.25 489.66,991.59C489.86,989.93 490.05,988.28 490.23,986.62C490.42,984.96 490.61,983.30 490.79,981.64C490.98,979.98 491.16,978.32 491.35,976.66C491.53,975.00 491.71,973.34 491.89,971.68C492.07,970.02 492.25,968.36 492.42,966.70C492.60,965.04 492.78,963.38 492.95,961.71C493.13,960.05 493.30,958.39 493.47,956.73C493.64,955.06 493.82,953.40 493.99,951.74C494.16,950.07 494.33,948.41 494.49,946.75C494.66,945.08 494.83,943.42 495.00,941.76C495.16,940.09 495.33,938.43 495.50,936.76C495.66,935.10 495.83,933.43 495.99,931.77C496.15,930.10 496.32,928.44 496.48,926.77C496.64,925.11 496.81,923.44 496.97,921.78C497.13,920.11 497.29,918.45 497.45,916.78C497.62,915.12 497.78,913.45 497.94,911.78C498.10,910.12 498.26,908.45 498.42,906.79C498.58,905.12 498.74,903.45 498.90,901.79C499.06,900.12 499.22,898.46 499.38,896.79C499.54,895.12 499.70,893.46 499.86,891.79C500.02,890.13 500.18,888.46 500.34,886.79C500.50,885.13 500.67,883.46 500.83,881.80C500.99,880.13 501.15,878.46 501.31,876.80C501.47,875.13 501.64,873.47 501.80,871.80C501.96,870.14 502.13,868.47 502.29,866.80C502.45,865.14 502.62,863.47 502.78,861.81C502.95,860.14 503.11,858.48 503.28,856.82C503.45,855.15 503.62,853.49 503.78,851.82C503.95,850.16 504.12,848.49 504.29,846.83C504.46,845.17 504.63,843.50 504.81,841.84C504.98,840.18 505.15,838.51 505.33,836.85C505.50,835.19 505.68,833.53 505.85,831.86C506.03,830.20 506.21,828.54 506.39,826.88C506.57,825.22 506.75,823.56 506.93,821.89C507.11,820.23 507.29,818.57 507.48,816.91C507.66,815.25 507.85,813.59 508.04,811.93C508.23,810.27 508.42,808.62 508.61,806.96C508.80,805.30 508.99,803.64 509.19,801.98C509.38,800.33 509.58,798.67 509.78,797.01C509.98,795.35 510.18,793.70 510.38,792.04C510.58,790.39 510.79,788.73 510.99,787.08C511.20,785.42 511.41,783.77 511.62,782.11C511.83,780.46 512.04,778.81 512.26,777.15C512.47,775.50 512.69,773.85 512.91,772.20C513.13,770.55 513.35,768.90 513.57,767.25C513.80,765.60 514.03,763.95 514.25,762.30C514.48,760.65 514.72,759.00 514.95,757.35C515.18,755.70 515.42,754.06 515.66,752.41C515.90,750.76 516.14,749.12 516.39,747.47C516.63,745.82 516.88,744.18 517.13,742.53C517.37,740.88 517.63,739.24 517.88,737.59C518.13,735.94 518.39,734.29 518.64,732.65C518.90,731.00 519.16,729.35 519.42,727.70C519.69,726.05 519.95,724.40 520.22,722.75C520.48,721.10 520.75,719.44 521.02,717.79C521.29,716.14 521.56,714.48 521.83,712.83C522.11,711.17 522.38,709.51 522.66,707.85C522.94,706.19 523.22,704.53 523.50,702.87C523.78,701.20 524.06,699.54 524.35,697.87C524.63,696.21 524.91,694.53 525.20,692.86C525.50,691.20 525.79,689.52 526.11,687.86C526.43,686.19 526.76,684.53 527.13,682.88C527.50,681.23 527.90,679.59 528.35,677.97C528.80,676.35 529.28,674.74 529.83,673.15C530.39,671.57 530.99,669.99 531.67,668.46C532.35,666.92 533.09,665.37 533.92,663.92C534.75,662.47 535.66,661.02 536.65,659.76C537.65,658.51 538.73,657.32 539.90,656.40C541.07,655.49 542.33,654.76 543.67,654.27C545.01,653.79 546.46,653.57 547.94,653.51C549.42,653.45 550.99,653.62 552.56,653.91C554.14,654.20 555.78,654.69 557.41,655.26C559.03,655.83 560.70,656.56 562.33,657.34C563.96,658.12 565.61,659.02 567.20,659.94C568.79,660.85 570.37,661.85 571.87,662.83C573.38,663.82 574.84,664.82 576.25,665.84C577.65,666.86 579.01,667.89 580.33,668.93C581.65,669.97 582.92,671.03 584.17,672.10C585.42,673.17 586.62,674.25 587.81,675.35C589.00,676.44 590.16,677.56 591.30,678.68C592.45,679.81 593.57,680.95 594.69,682.10C595.80,683.26 596.90,684.43 598.01,685.62C599.11,686.80 600.21,688.00 601.32,689.22C602.43,690.43 603.53,691.67 604.66,692.91C605.78,694.15 606.91,695.41 608.07,696.64C609.22,697.87 610.39,699.10 611.58,700.29C612.78,701.47 614.00,702.65 615.25,703.76C616.50,704.86 617.77,705.94 619.09,706.93C620.41,707.92 621.76,708.86 623.15,709.70C624.55,710.54 625.98,711.31 627.47,711.96C628.96,712.61 630.49,713.18 632.08,713.60C633.67,714.03 635.33,714.30 637.01,714.53C638.69,714.75 640.44,714.80 642.14,714.96C643.84,715.12 645.58,715.20 647.20,715.49C648.83,715.79 650.42,716.14 651.89,716.74C653.37,717.33 654.74,718.13 656.05,719.04C657.36,719.95 658.58,721.06 659.75,722.22C660.93,723.38 662.03,724.69 663.11,726.01C664.20,727.34 665.23,728.76 666.25,730.17C667.28,731.57 668.27,733.02 669.27,734.45C670.27,735.88 671.25,737.32 672.23,738.74C673.22,740.17 674.20,741.59 675.20,742.99C676.20,744.38 677.20,745.77 678.22,747.11C679.25,748.46 680.28,749.79 681.35,751.06C682.42,752.34 683.50,753.59 684.63,754.77C685.76,755.96 686.92,757.10 688.13,758.18C689.34,759.25 690.58,760.27 691.88,761.21C693.19,762.15 694.53,763.03 695.95,763.82C697.37,764.61 698.85,765.30 700.37,765.94C701.90,766.57 703.50,767.12 705.11,767.64C706.72,768.16 708.39,768.62 710.05,769.08C711.72,769.54 713.41,769.95 715.09,770.40C716.76,770.85 718.46,771.28 720.11,771.76C721.76,772.25 723.41,772.74 725.01,773.32C726.60,773.89 728.17,774.51 729.68,775.21C731.19,775.91 732.64,776.70 734.07,777.52C735.49,778.35 736.87,779.25 738.23,780.18C739.59,781.10 740.91,782.09 742.23,783.08C743.54,784.08 744.83,785.12 746.13,786.16C747.43,787.19 748.71,788.26 750.01,789.30C751.30,790.35 752.60,791.41 753.92,792.43C755.24,793.46 756.57,794.48 757.93,795.47C759.29,796.45 760.67,797.42 762.06,798.35C763.46,799.28 764.88,800.19 766.31,801.06C767.75,801.93 769.20,802.77 770.67,803.58C772.14,804.38 773.62,805.15 775.12,805.88C776.62,806.61 778.14,807.30 779.67,807.95C781.20,808.59 782.74,809.20 784.30,809.75C785.85,810.31 787.42,810.82 789.00,811.28C790.58,811.73 792.17,812.15 793.78,812.50C795.38,812.85 796.99,813.15 798.61,813.39C800.23,813.64 801.86,813.82 803.50,813.94C805.14,814.06 806.78,814.13 808.43,814.12C810.09,814.12 811.74,814.05 813.41,813.91C815.07,813.77 816.74,813.55 818.41,813.29C820.08,813.03 821.76,812.70 823.44,812.35C825.11,812.00 826.79,811.59 828.47,811.19C830.15,810.78 831.83,810.34 833.51,809.91C835.19,809.49 836.87,809.05 838.54,808.64C840.21,808.24 841.88,807.83 843.55,807.48C845.22,807.13 846.88,806.80 848.53,806.54C850.19,806.29 851.84,806.07 853.48,805.94C855.12,805.81 856.75,805.75 858.38,805.77C860.00,805.79 861.61,805.90 863.23,806.06C864.84,806.22 866.44,806.46 868.05,806.74C869.66,807.01 871.26,807.34 872.87,807.68C874.47,808.03 876.08,808.42 877.69,808.81C879.30,809.20 880.92,809.62 882.55,810.03C884.17,810.43 885.81,810.84 887.45,811.22C889.09,811.60 890.76,811.96 892.41,812.32C894.07,812.68 895.74,813.02 897.40,813.39C899.05,813.75 900.71,814.11 902.34,814.53C903.97,814.94 905.59,815.37 907.17,815.86C908.75,816.36 910.32,816.89 911.83,817.51C913.35,818.13 914.83,818.80 916.26,819.58C917.69,820.37 919.06,821.24 920.39,822.20C921.72,823.15 922.99,824.23 924.25,825.32C925.51,826.42 926.72,827.60 927.94,828.77C929.16,829.94 930.36,831.17 931.59,832.35C932.82,833.53 934.05,834.72 935.31,835.86C936.56,837.01 937.84,838.13 939.14,839.22C940.44,840.31 941.76,841.37 943.10,842.39C944.44,843.41 945.79,844.40 947.18,845.34C948.56,846.28 949.96,847.19 951.38,848.04C952.81,848.90 954.25,849.71 955.72,850.46C957.19,851.22 958.69,851.93 960.20,852.58C961.72,853.23 963.26,853.81 964.81,854.36C966.37,854.91 967.95,855.40 969.54,855.87C971.14,856.34 972.75,856.76 974.36,857.17C975.98,857.58 977.61,857.96 979.25,858.34C980.88,858.72 982.53,859.07 984.17,859.44C985.82,859.81 987.47,860.17 989.11,860.55C990.75,860.93 992.40,861.32 994.03,861.74C995.67,862.16 997.30,862.60 998.91,863.08C1000.53,863.57 1002.14,864.09 1003.73,864.64C1005.33,865.19 1006.90,865.81 1008.48,866.39C1010.06,866.98 1011.63,867.59 1013.21,868.14C1014.79,868.69 1016.37,869.24 1017.97,869.68C1019.56,870.13 1021.17,870.53 1022.79,870.81C1024.42,871.10 1026.07,871.26 1027.72,871.39C1029.37,871.53 1031.04,871.55 1032.71,871.62C1034.37,871.68 1036.05,871.68 1037.71,871.77C1039.36,871.86 1041.02,871.94 1042.66,872.14C1044.29,872.34 1045.90,872.61 1047.50,872.97C1049.10,873.33 1050.68,873.79 1052.25,874.30C1053.81,874.81 1055.36,875.40 1056.90,876.03C1058.44,876.66 1059.97,877.36 1061.48,878.09C1063.00,878.81 1064.51,879.59 1066.01,880.39C1067.52,881.18 1069.01,882.01 1070.50,882.84C1072.00,883.67 1073.48,884.53 1074.97,885.37C1076.46,886.21 1077.94,887.06 1079.43,887.88C1080.92,888.71 1082.41,889.53 1083.90,890.31C1085.40,891.09 1086.90,891.85 1088.40,892.56C1089.91,893.26 1091.42,893.94 1092.95,894.55C1094.47,895.15 1096.01,895.71 1097.55,896.19C1099.10,896.67 1100.66,897.08 1102.23,897.43C1103.81,897.77 1105.39,898.04 1106.99,898.26C1108.58,898.47 1110.19,898.62 1111.81,898.73C1113.42,898.83 1115.05,898.88 1116.68,898.88C1118.32,898.89 1119.96,898.84 1121.61,898.76C1123.27,898.68 1124.92,898.56 1126.59,898.41C1128.25,898.26 1129.93,898.07 1131.60,897.87C1133.28,897.66 1134.96,897.42 1136.64,897.18C1138.33,896.93 1140.02,896.66 1141.71,896.38C1143.40,896.11 1145.09,895.82 1146.79,895.53C1148.48,895.24 1150.18,894.94 1151.88,894.65C1153.57,894.37 1155.27,894.07 1156.96,893.80C1158.66,893.53 1160.35,893.26 1162.05,893.02C1163.74,892.77 1165.43,892.54 1167.12,892.34C1168.80,892.14 1170.49,891.95 1172.16,891.81C1173.84,891.67 1175.52,891.55 1177.18,891.48C1178.85,891.40 1180.51,891.37 1182.17,891.36C1183.83,891.35 1185.48,891.38 1187.13,891.42C1188.78,891.45 1190.43,891.51 1192.07,891.57C1193.71,891.63 1195.36,891.71 1197.00,891.77C1198.64,891.83 1200.28,891.90 1201.92,891.94C1203.56,891.98 1205.20,892.01 1206.84,892.01C1208.49,892.01 1210.13,891.99 1211.78,891.93C1213.43,891.87 1215.07,891.77 1216.73,891.62C1218.38,891.48 1220.04,891.28 1221.71,891.04C1223.37,890.80 1225.04,890.50 1226.71,890.19C1228.37,889.88 1230.05,889.53 1231.72,889.18C1233.39,888.83 1235.07,888.46 1236.74,888.10C1238.42,887.74 1240.09,887.37 1241.77,887.03C1243.44,886.69 1245.11,886.36 1246.78,886.07C1248.45,885.79 1250.12,885.52 1251.78,885.32C1253.45,885.12 1255.11,884.95 1256.76,884.86C1258.42,884.76 1260.07,884.72 1261.71,884.75C1263.34,884.78 1264.98,884.86 1266.59,885.02C1268.21,885.18 1269.82,885.40 1271.41,885.70C1273.00,885.99 1274.57,886.36 1276.13,886.80C1277.68,887.24 1279.22,887.75 1280.73,888.35C1282.24,888.94 1283.74,889.62 1285.20,890.36C1286.67,891.10 1288.11,891.93 1289.52,892.81C1290.94,893.69 1292.33,894.65 1293.69,895.65C1295.05,896.65 1296.38,897.71 1297.68,898.82C1298.99,899.92 1300.26,901.08 1301.50,902.26C1302.74,903.45 1303.95,904.68 1305.13,905.94C1306.30,907.19 1307.44,908.48 1308.55,909.78C1309.66,911.08 1310.72,912.42 1311.77,913.74C1312.83,915.07 1313.84,916.42 1314.87,917.73C1315.91,919.04 1316.92,920.35 1317.98,921.61C1319.04,922.87 1320.10,924.11 1321.22,925.28C1322.34,926.45 1323.49,927.58 1324.72,928.62C1325.96,929.66 1327.25,930.63 1328.61,931.52C1329.97,932.41 1331.40,933.22 1332.88,933.96C1334.35,934.71 1335.89,935.37 1337.45,935.99C1339.00,936.60 1340.61,937.15 1342.23,937.65C1343.85,938.15 1345.50,938.59 1347.14,938.99C1348.79,939.39 1350.45,939.74 1352.11,940.06C1353.76,940.38 1355.42,940.65 1357.07,940.91C1358.73,941.17 1360.38,941.40 1362.04,941.62C1363.69,941.85 1365.35,942.05 1367.00,942.26C1368.65,942.48 1370.30,942.68 1371.95,942.90C1373.60,943.13 1375.25,943.35 1376.90,943.61C1378.54,943.87 1380.18,944.14 1381.82,944.45C1383.46,944.76 1385.10,945.12 1386.74,945.47C1388.37,945.83 1390.00,946.22 1391.64,946.60C1393.27,946.98 1394.90,947.37 1396.54,947.74C1398.17,948.11 1399.80,948.48 1401.43,948.81C1403.07,949.15 1404.70,949.46 1406.34,949.73C1407.98,950.00 1409.62,950.23 1411.26,950.44C1412.90,950.66 1414.54,950.84 1416.19,951.02C1417.83,951.20 1419.47,951.36 1421.12,951.53C1422.77,951.70 1424.41,951.86 1426.06,952.05C1427.71,952.23 1429.36,952.42 1431.00,952.65C1432.65,952.88 1434.30,953.12 1435.95,953.41C1437.59,953.70 1439.24,954.02 1440.89,954.40C1442.54,954.78 1444.18,955.22 1445.83,955.68C1447.47,956.13 1449.11,956.65 1450.75,957.12C1452.40,957.59 1454.03,958.09 1455.67,958.50C1457.30,958.92 1458.93,959.32 1460.56,959.59C1462.18,959.87 1463.80,960.09 1465.42,960.15C1467.03,960.21 1468.64,960.17 1470.25,959.95C1471.85,959.74 1473.44,959.34 1475.03,958.87C1476.63,958.41 1478.21,957.78 1479.80,957.17C1481.39,956.55 1482.97,955.83 1484.56,955.18C1486.15,954.53 1487.73,953.83 1489.33,953.26C1490.92,952.69 1492.52,952.13 1494.12,951.75C1495.73,951.36 1497.34,951.10 1498.96,950.96C1500.58,950.81 1502.21,950.82 1503.84,950.89C1505.47,950.97 1507.11,951.16 1508.75,951.40C1510.39,951.63 1512.04,951.96 1513.69,952.31C1515.34,952.65 1516.99,953.06 1518.64,953.46C1520.29,953.86 1521.95,954.30 1523.60,954.70C1525.25,955.10 1526.90,955.50 1528.55,955.87C1530.20,956.24 1531.85,956.58 1533.50,956.90C1535.15,957.23 1536.79,957.54 1538.44,957.84C1540.08,958.13 1541.73,958.41 1543.37,958.69C1545.01,958.96 1546.66,959.22 1548.30,959.49C1549.94,959.75 1551.58,960.00 1553.22,960.26C1554.86,960.52 1556.50,960.77 1558.13,961.04C1559.77,961.30 1561.41,961.56 1563.04,961.84C1564.68,962.12 1566.31,962.39 1567.95,962.70C1569.58,963.01 1571.21,963.30 1572.83,963.71C1574.45,964.12 1576.07,964.56 1577.65,965.17C1579.24,965.79 1580.81,966.56 1582.36,967.43C1583.90,968.30 1585.41,969.42 1586.92,970.41C1588.43,971.39 1589.91,972.51 1591.41,973.34C1592.90,974.16 1594.38,974.94 1595.87,975.36C1597.36,975.78 1598.86,975.91 1600.36,975.87C1601.87,975.82 1603.38,975.49 1604.90,975.10C1606.41,974.70 1607.94,974.10 1609.47,973.50C1611.00,972.90 1612.54,972.16 1614.09,971.50C1615.64,970.85 1617.19,970.14 1618.76,969.55C1620.32,968.97 1621.89,968.45 1623.47,967.99C1625.05,967.54 1626.63,967.16 1628.22,966.82C1629.82,966.48 1631.42,966.20 1633.02,965.94C1634.63,965.68 1636.24,965.48 1637.86,965.27C1639.48,965.06 1641.10,964.89 1642.73,964.71C1644.36,964.52 1646.00,964.35 1647.64,964.17C1649.27,963.98 1650.92,963.77 1652.57,963.57C1654.22,963.36 1655.87,963.14 1657.52,962.93C1659.18,962.72 1660.84,962.49 1662.50,962.28C1664.16,962.07 1665.83,961.86 1667.49,961.66C1669.16,961.47 1670.83,961.27 1672.50,961.10C1674.17,960.93 1675.84,960.77 1677.51,960.64C1679.18,960.51 1680.85,960.39 1682.52,960.30C1684.19,960.22 1685.86,960.16 1687.53,960.14C1689.20,960.11 1690.87,960.13 1692.54,960.17C1694.21,960.21 1695.88,960.29 1697.54,960.39C1699.21,960.49 1700.87,960.62 1702.53,960.76C1704.20,960.90 1705.86,961.06 1707.52,961.23C1709.18,961.40 1710.83,961.58 1712.49,961.77C1714.15,961.95 1715.80,962.14 1717.46,962.32C1719.11,962.50 1720.76,962.68 1722.41,962.84C1724.07,963.01 1725.72,963.17 1727.36,963.30C1729.01,963.43 1730.66,963.55 1732.30,963.64C1733.95,963.73 1735.59,963.80 1737.23,963.83C1738.87,963.86 1740.51,963.86 1742.15,963.81C1743.79,963.77 1745.42,963.69 1747.05,963.56C1748.68,963.44 1750.30,963.27 1751.92,963.05C1753.54,962.83 1755.15,962.56 1756.75,962.23C1758.36,961.90 1759.95,961.53 1761.54,961.08C1763.12,960.64 1764.70,960.14 1766.27,959.57C1767.83,958.99 1769.39,958.36 1770.93,957.65C1772.47,956.94 1774.01,956.16 1775.52,955.30C1777.04,954.45 1778.53,953.45 1780.03,952.52C1781.53,951.58 1783.00,950.53 1784.50,949.68C1786.00,948.84 1787.49,947.98 1789.01,947.44C1790.53,946.90 1792.06,946.51 1793.63,946.43C1795.20,946.35 1796.80,946.62 1798.40,946.96C1800.01,947.30 1801.65,947.92 1803.28,948.48C1804.91,949.04 1806.56,949.75 1808.19,950.33C1809.83,950.91 1811.46,951.47 1813.09,951.94C1814.72,952.41 1816.34,952.81 1817.96,953.14C1819.58,953.47 1821.19,953.73 1822.80,953.91C1824.41,954.09 1826.02,954.20 1827.62,954.23C1829.22,954.25 1830.82,954.20 1832.41,954.05C1834.01,953.91 1835.60,953.69 1837.19,953.37C1838.78,953.05 1840.36,952.62 1841.95,952.13C1843.53,951.64 1845.11,951.04 1846.69,950.42C1848.27,949.80 1849.85,949.10 1851.43,948.42C1853.01,947.73 1854.59,947.00 1856.18,946.31C1857.77,945.63 1859.35,944.92 1860.95,944.30C1862.54,943.68 1864.14,943.08 1865.74,942.59C1867.35,942.10 1868.96,941.66 1870.58,941.36C1872.20,941.07 1873.83,940.87 1875.47,940.82C1877.10,940.77 1878.75,940.89 1880.41,941.05C1882.07,941.21 1883.73,941.51 1885.40,941.78C1887.07,942.04 1888.75,942.39 1890.43,942.63C1892.10,942.88 1893.79,943.14 1895.47,943.26C1897.15,943.38 1898.84,943.40 1900.52,943.38C1902.20,943.35 1903.89,943.22 1905.56,943.12C1907.24,943.02 1908.92,942.86 1910.58,942.77C1912.25,942.69 1913.91,942.58 1915.56,942.61C1917.21,942.63 1918.85,942.70 1920.48,942.90C1922.10,943.11 1923.72,943.44 1925.33,943.83C1926.94,944.22 1928.53,944.72 1930.13,945.24C1931.72,945.77 1933.30,946.38 1934.89,946.99C1936.47,947.60 1938.04,948.26 1939.62,948.89C1941.19,949.52 1942.77,950.18 1944.34,950.78C1945.91,951.37 1947.48,951.97 1949.06,952.48C1950.64,952.99 1953.01,953.60 1953.80,953.82" fill="none" stroke="#0000ff" stroke-width="5.5" stroke-linejoin="round" stroke-linecap="butt"/>
<path d="M284.22,1088.65C285.05,1088.54 287.56,1088.28 289.21,1088.02C290.86,1087.76 292.50,1087.44 294.13,1087.09C295.76,1086.73 297.38,1086.33 298.99,1085.90C300.61,1085.48 302.22,1085.01 303.82,1084.53C305.42,1084.04 307.02,1083.53 308.61,1083.01C310.21,1082.48 311.80,1081.94 313.39,1081.40C314.98,1080.86 316.56,1080.30 318.15,1079.76C319.74,1079.22 321.33,1078.67 322.92,1078.14C324.52,1077.62 326.11,1077.09 327.71,1076.60C329.31,1076.11 330.91,1075.63 332.52,1075.20C334.13,1074.76 335.74,1074.34 337.37,1073.97C338.99,1073.61 340.63,1073.27 342.27,1072.99C343.91,1072.72 345.57,1072.49 347.23,1072.30C348.89,1072.11 350.56,1071.98 352.24,1071.87C353.92,1071.77 355.61,1071.71 357.29,1071.66C358.98,1071.62 360.68,1071.61 362.37,1071.61C364.07,1071.61 365.77,1071.63 367.47,1071.66C369.17,1071.69 370.87,1071.73 372.56,1071.77C374.26,1071.81 375.96,1071.85 377.65,1071.88C379.34,1071.90 381.03,1071.93 382.70,1071.93C384.38,1071.93 386.06,1071.93 387.72,1071.88C389.39,1071.84 391.04,1071.77 392.69,1071.67C394.34,1071.57 395.97,1071.44 397.60,1071.29C399.23,1071.13 400.85,1070.95 402.47,1070.75C404.10,1070.56 405.71,1070.34 407.33,1070.12C408.94,1069.90 410.56,1069.66 412.17,1069.42C413.79,1069.19 415.41,1068.94 417.03,1068.70C418.66,1068.46 420.29,1068.22 421.92,1068.00C423.56,1067.77 425.21,1067.55 426.86,1067.35C428.52,1067.15 430.18,1066.96 431.86,1066.80C433.54,1066.64 435.24,1066.49 436.95,1066.38C438.66,1066.28 440.39,1066.20 442.13,1066.15C443.87,1066.09 445.64,1066.08 447.41,1066.07C449.18,1066.05 450.97,1066.06 452.76,1066.05C454.55,1066.04 456.37,1066.06 458.16,1066.02C459.95,1065.97 461.79,1065.96 463.52,1065.80C465.25,1065.64 466.98,1065.46 468.53,1065.06C470.08,1064.65 471.54,1064.11 472.83,1063.38C474.13,1062.65 475.26,1061.72 476.30,1060.67C477.34,1059.63 478.24,1058.41 479.07,1057.12C479.91,1055.83 480.63,1054.40 481.31,1052.94C481.98,1051.47 482.57,1049.90 483.14,1048.34C483.72,1046.77 484.23,1045.14 484.74,1043.53C485.25,1041.92 485.73,1040.30 486.20,1038.68C486.68,1037.06 487.13,1035.44 487.57,1033.82C488.00,1032.20 488.42,1030.57 488.83,1028.94C489.23,1027.31 489.62,1025.68 489.99,1024.05C490.37,1022.41 490.73,1020.78 491.07,1019.14C491.42,1017.50 491.75,1015.86 492.07,1014.22C492.39,1012.58 492.69,1010.93 492.98,1009.29C493.28,1007.64 493.56,1005.99 493.82,1004.34C494.09,1002.69 494.35,1001.04 494.60,999.39C494.85,997.74 495.08,996.08 495.31,994.43C495.54,992.77 495.75,991.11 495.96,989.45C496.17,987.79 496.37,986.13 496.56,984.47C496.75,982.81 496.94,981.14 497.11,979.48C497.29,977.81 497.46,976.15 497.62,974.48C497.79,972.82 497.94,971.15 498.09,969.48C498.25,967.81 498.39,966.14 498.53,964.47C498.68,962.80 498.81,961.13 498.95,959.46C499.08,957.78 499.21,956.11 499.34,954.44C499.47,952.76 499.59,951.09 499.72,949.42C499.84,947.74 499.96,946.07 500.08,944.39C500.20,942.72 500.32,941.04 500.44,939.37C500.56,937.69 500.68,936.02 500.80,934.34C500.92,932.66 501.04,930.99 501.16,929.31C501.29,927.64 501.41,925.96 501.54,924.29C501.66,922.61 501.79,920.94 501.92,919.26C502.06,917.59 502.19,915.91 502.33,914.24C502.47,912.56 502.62,910.89 502.76,909.22C502.91,907.54 503.07,905.87 503.23,904.20C503.38,902.53 503.55,900.86 503.71,899.18C503.88,897.51 504.05,895.84 504.22,894.17C504.39,892.50 504.57,890.83 504.75,889.16C504.93,887.49 505.11,885.83 505.30,884.16C505.48,882.49 505.67,880.82 505.86,879.16C506.06,877.49 506.25,875.82 506.44,874.16C506.64,872.49 506.84,870.82 507.04,869.16C507.24,867.49 507.44,865.83 507.64,864.17C507.84,862.50 508.05,860.84 508.25,859.18C508.46,857.51 508.67,855.85 508.87,854.19C509.08,852.53 509.29,850.87 509.50,849.21C509.70,847.54 509.91,845.88 510.12,844.22C510.33,842.56 510.54,840.91 510.75,839.25C510.95,837.59 511.16,835.93 511.37,834.27C511.58,832.61 511.78,830.96 511.99,829.30C512.19,827.64 512.40,825.99 512.60,824.33C512.81,822.68 513.01,821.02 513.21,819.37C513.41,817.71 513.61,816.06 513.80,814.41C514.00,812.75 514.19,811.10 514.38,809.45C514.58,807.79 514.76,806.14 514.95,804.49C515.14,802.84 515.32,801.19 515.50,799.54C515.68,797.89 515.86,796.24 516.03,794.59C516.21,792.94 516.38,791.29 516.55,789.64C516.71,787.99 516.88,786.35 517.04,784.70C517.21,783.05 517.37,781.40 517.54,779.75C517.70,778.10 517.87,776.45 518.04,774.80C518.21,773.15 518.39,771.50 518.57,769.84C518.76,768.19 518.94,766.53 519.14,764.87C519.34,763.21 519.54,761.55 519.76,759.88C519.98,758.22 520.21,756.55 520.45,754.88C520.69,753.20 520.95,751.53 521.22,749.85C521.49,748.17 521.77,746.48 522.08,744.79C522.38,743.10 522.70,741.41 523.04,739.71C523.39,738.01 523.75,736.31 524.13,734.60C524.52,732.89 524.92,731.17 525.35,729.45C525.79,727.72 526.23,725.97 526.72,724.26C527.22,722.55 527.72,720.80 528.31,719.18C528.90,717.57 529.52,715.98 530.25,714.59C530.98,713.20 531.78,711.89 532.70,710.84C533.62,709.80 534.65,708.93 535.78,708.31C536.91,707.69 538.15,707.30 539.46,707.13C540.76,706.96 542.16,707.04 543.60,707.28C545.04,707.52 546.56,708.01 548.09,708.58C549.63,709.15 551.22,709.91 552.81,710.69C554.41,711.46 556.04,712.37 557.66,713.23C559.27,714.09 560.90,715.01 562.51,715.84C564.11,716.67 565.69,717.45 567.26,718.19C568.83,718.93 570.38,719.60 571.92,720.28C573.47,720.95 575.00,721.59 576.53,722.25C578.07,722.91 579.60,723.57 581.13,724.23C582.66,724.90 584.18,725.57 585.71,726.24C587.23,726.91 588.76,727.59 590.28,728.27C591.80,728.95 593.32,729.64 594.83,730.33C596.35,731.02 597.86,731.71 599.37,732.41C600.88,733.11 602.39,733.82 603.90,734.53C605.40,735.24 606.91,735.95 608.41,736.67C609.91,737.39 611.41,738.12 612.90,738.85C614.40,739.58 615.89,740.32 617.38,741.06C618.87,741.80 620.35,742.55 621.84,743.30C623.32,744.06 624.80,744.82 626.28,745.59C627.75,746.35 629.23,747.13 630.70,747.91C632.17,748.69 633.63,749.47 635.10,750.26C636.56,751.06 638.02,751.86 639.48,752.66C640.93,753.47 642.39,754.28 643.84,755.10C645.28,755.92 646.73,756.75 648.17,757.59C649.61,758.42 651.05,759.27 652.49,760.12C653.92,760.97 655.35,761.83 656.78,762.69C658.20,763.56 659.63,764.43 661.05,765.30C662.47,766.18 663.89,767.06 665.30,767.95C666.72,768.83 668.14,769.72 669.55,770.60C670.97,771.49 672.38,772.38 673.80,773.26C675.21,774.15 676.63,775.03 678.05,775.91C679.46,776.79 680.88,777.67 682.31,778.54C683.73,779.42 685.15,780.28 686.58,781.14C688.01,782.00 689.44,782.86 690.88,783.70C692.31,784.54 693.75,785.38 695.20,786.20C696.64,787.02 698.10,787.83 699.55,788.63C701.01,789.43 702.48,790.21 703.95,790.98C705.42,791.75 706.90,792.51 708.39,793.24C709.88,793.98 711.37,794.70 712.88,795.40C714.39,796.10 715.90,796.78 717.43,797.44C718.95,798.10 720.49,798.74 722.04,799.36C723.58,799.98 725.14,800.57 726.71,801.15C728.28,801.73 729.85,802.28 731.44,802.83C733.02,803.37 734.61,803.90 736.21,804.42C737.80,804.95 739.41,805.45 741.01,805.96C742.62,806.46 744.23,806.96 745.84,807.45C747.45,807.95 749.07,808.44 750.68,808.93C752.30,809.43 753.91,809.92 755.52,810.42C757.14,810.92 758.75,811.42 760.36,811.94C761.97,812.45 763.58,812.97 765.18,813.51C766.78,814.05 768.38,814.59 769.97,815.15C771.56,815.72 773.14,816.30 774.72,816.90C776.30,817.50 777.87,818.12 779.42,818.76C780.98,819.41 782.53,820.08 784.07,820.77C785.60,821.47 787.13,822.20 788.65,822.93C790.17,823.66 791.68,824.41 793.19,825.15C794.70,825.89 796.20,826.63 797.71,827.35C799.22,828.06 800.73,828.77 802.24,829.43C803.76,830.09 805.27,830.73 806.81,831.30C808.34,831.87 809.87,832.41 811.43,832.87C812.98,833.33 814.55,833.73 816.14,834.05C817.72,834.37 819.32,834.61 820.94,834.80C822.55,834.99 824.19,835.10 825.83,835.19C827.47,835.27 829.12,835.29 830.79,835.29C832.45,835.29 834.12,835.24 835.80,835.19C837.47,835.13 839.16,835.05 840.85,834.96C842.54,834.88 844.23,834.78 845.92,834.70C847.62,834.62 849.32,834.53 851.01,834.48C852.70,834.43 854.40,834.38 856.09,834.38C857.78,834.38 859.47,834.41 861.15,834.47C862.83,834.53 864.51,834.63 866.18,834.76C867.86,834.88 869.53,835.04 871.19,835.23C872.86,835.42 874.52,835.65 876.17,835.90C877.83,836.15 879.48,836.43 881.12,836.74C882.76,837.05 884.40,837.38 886.03,837.75C887.66,838.11 889.29,838.50 890.91,838.92C892.53,839.34 894.14,839.78 895.74,840.25C897.35,840.72 898.94,841.21 900.53,841.73C902.12,842.24 903.70,842.78 905.28,843.35C906.85,843.91 908.42,844.49 909.97,845.10C911.53,845.71 913.08,846.33 914.62,846.98C916.16,847.63 917.69,848.30 919.21,848.98C920.73,849.67 922.24,850.37 923.75,851.09C925.25,851.81 926.75,852.55 928.24,853.30C929.73,854.05 931.22,854.81 932.70,855.58C934.18,856.35 935.65,857.14 937.13,857.93C938.60,858.72 940.07,859.52 941.54,860.32C943.01,861.12 944.48,861.93 945.95,862.74C947.42,863.55 948.89,864.36 950.36,865.17C951.83,865.98 953.30,866.79 954.78,867.59C956.26,868.40 957.74,869.20 959.23,870.00C960.72,870.79 962.21,871.58 963.71,872.36C965.21,873.14 966.71,873.91 968.22,874.67C969.74,875.42 971.25,876.17 972.77,876.90C974.30,877.63 975.83,878.34 977.36,879.03C978.90,879.73 980.44,880.40 981.98,881.06C983.53,881.71 985.08,882.34 986.64,882.94C988.20,883.55 989.77,884.13 991.34,884.68C992.91,885.23 994.49,885.76 996.07,886.25C997.66,886.74 999.25,887.20 1000.84,887.62C1002.44,888.05 1004.04,888.44 1005.65,888.79C1007.26,889.15 1008.88,889.47 1010.50,889.76C1012.12,890.05 1013.75,890.31 1015.38,890.54C1017.01,890.77 1018.65,890.97 1020.29,891.15C1021.93,891.33 1023.57,891.48 1025.22,891.62C1026.87,891.75 1028.53,891.86 1030.19,891.95C1031.85,892.04 1033.51,892.11 1035.17,892.17C1036.84,892.23 1038.51,892.27 1040.18,892.30C1041.85,892.33 1043.52,892.34 1045.20,892.35C1046.88,892.36 1048.56,892.35 1050.24,892.34C1051.92,892.33 1053.60,892.32 1055.28,892.30C1056.97,892.28 1058.65,892.25 1060.34,892.23C1062.03,892.20 1063.71,892.18 1065.40,892.15C1067.09,892.13 1068.78,892.11 1070.47,892.09C1072.16,892.08 1073.84,892.07 1075.53,892.07C1077.22,892.07 1078.91,892.07 1080.60,892.09C1082.28,892.11 1083.97,892.14 1085.65,892.18C1087.34,892.23 1089.02,892.28 1090.71,892.35C1092.39,892.41 1094.07,892.48 1095.75,892.57C1097.43,892.65 1099.12,892.74 1100.80,892.84C1102.47,892.94 1104.15,893.05 1105.83,893.16C1107.51,893.28 1109.19,893.40 1110.86,893.52C1112.54,893.65 1114.22,893.78 1115.89,893.91C1117.57,894.05 1119.24,894.19 1120.92,894.33C1122.59,894.47 1124.26,894.61 1125.94,894.75C1127.61,894.90 1129.28,895.05 1130.95,895.19C1132.62,895.34 1134.29,895.48 1135.96,895.63C1137.64,895.77 1139.31,895.92 1140.97,896.06C1142.64,896.20 1144.31,896.34 1145.98,896.47C1147.65,896.61 1149.32,896.74 1150.99,896.87C1152.65,896.99 1154.32,897.11 1155.99,897.23C1157.66,897.34 1159.32,897.45 1160.99,897.55C1162.66,897.66 1164.32,897.75 1165.99,897.83C1167.65,897.92 1169.32,898.00 1170.99,898.06C1172.65,898.13 1174.32,898.19 1175.98,898.23C1177.65,898.27 1179.31,898.31 1180.98,898.33C1182.64,898.35 1184.31,898.36 1185.97,898.35C1187.64,898.35 1189.30,898.33 1190.97,898.29C1192.63,898.26 1194.30,898.21 1195.96,898.14C1197.62,898.08 1199.29,898.00 1200.95,897.90C1202.62,897.80 1204.28,897.68 1205.95,897.54C1207.61,897.41 1209.28,897.25 1210.95,897.08C1212.61,896.90 1214.28,896.70 1215.94,896.49C1217.61,896.27 1219.27,896.03 1220.94,895.77C1222.61,895.51 1224.27,895.23 1225.94,894.92C1227.61,894.61 1229.27,894.27 1230.94,893.92C1232.61,893.57 1234.28,893.19 1235.94,892.81C1237.61,892.44 1239.27,892.05 1240.94,891.68C1242.60,891.32 1244.26,890.95 1245.92,890.62C1247.58,890.29 1249.23,889.98 1250.88,889.72C1252.54,889.46 1254.18,889.23 1255.83,889.07C1257.47,888.92 1259.11,888.80 1260.74,888.78C1262.37,888.75 1264.00,888.79 1265.62,888.91C1267.23,889.04 1268.84,889.23 1270.43,889.51C1272.02,889.79 1273.61,890.14 1275.16,890.57C1276.72,891.00 1278.26,891.50 1279.78,892.09C1281.29,892.67 1282.79,893.33 1284.25,894.06C1285.71,894.80 1287.15,895.61 1288.55,896.50C1289.95,897.38 1291.32,898.36 1292.66,899.38C1294.00,900.40 1295.30,901.50 1296.60,902.62C1297.90,903.74 1299.17,904.92 1300.43,906.09C1301.70,907.27 1302.96,908.48 1304.22,909.67C1305.48,910.86 1306.73,912.07 1308.00,913.23C1309.28,914.39 1310.55,915.54 1311.85,916.63C1313.16,917.72 1314.47,918.78 1315.82,919.75C1317.17,920.73 1318.55,921.64 1319.96,922.47C1321.38,923.30 1322.83,924.05 1324.30,924.73C1325.78,925.42 1327.28,926.03 1328.81,926.59C1330.34,927.15 1331.90,927.65 1333.47,928.10C1335.04,928.56 1336.64,928.95 1338.25,929.32C1339.87,929.68 1341.50,930.00 1343.14,930.29C1344.78,930.59 1346.44,930.84 1348.10,931.08C1349.76,931.32 1351.44,931.53 1353.12,931.73C1354.79,931.94 1356.48,932.12 1358.16,932.31C1359.85,932.50 1361.53,932.67 1363.21,932.86C1364.89,933.05 1366.57,933.23 1368.25,933.44C1369.92,933.64 1371.59,933.85 1373.25,934.07C1374.92,934.28 1376.58,934.51 1378.23,934.75C1379.89,934.98 1381.54,935.23 1383.19,935.48C1384.85,935.73 1386.49,935.99 1388.14,936.26C1389.79,936.53 1391.43,936.80 1393.07,937.09C1394.72,937.37 1396.36,937.66 1398.00,937.96C1399.64,938.26 1401.28,938.57 1402.92,938.88C1404.56,939.19 1406.20,939.52 1407.84,939.84C1409.48,940.17 1411.12,940.51 1412.76,940.85C1414.40,941.19 1416.04,941.54 1417.69,941.88C1419.33,942.22 1420.97,942.57 1422.62,942.90C1424.27,943.23 1425.92,943.56 1427.57,943.86C1429.22,944.16 1430.87,944.44 1432.52,944.69C1434.18,944.93 1435.83,945.16 1437.49,945.34C1439.15,945.51 1440.81,945.66 1442.47,945.75C1444.14,945.84 1445.80,945.87 1447.47,945.87C1449.14,945.86 1450.81,945.80 1452.49,945.71C1454.16,945.63 1455.84,945.50 1457.52,945.37C1459.20,945.24 1460.88,945.08 1462.57,944.93C1464.25,944.78 1465.94,944.61 1467.63,944.47C1469.32,944.33 1471.02,944.18 1472.71,944.08C1474.40,943.97 1476.10,943.88 1477.79,943.84C1479.47,943.79 1481.16,943.78 1482.83,943.83C1484.50,943.88 1486.17,943.96 1487.81,944.13C1489.45,944.29 1491.08,944.51 1492.69,944.81C1494.29,945.12 1495.87,945.50 1497.43,945.97C1498.98,946.43 1500.51,947.01 1502.02,947.62C1503.54,948.24 1505.03,948.94 1506.53,949.64C1508.03,950.34 1509.52,951.10 1511.04,951.82C1512.55,952.54 1514.08,953.27 1515.62,953.97C1517.16,954.67 1518.72,955.36 1520.29,956.01C1521.86,956.66 1523.44,957.29 1525.04,957.88C1526.63,958.46 1528.23,959.02 1529.85,959.53C1531.46,960.03 1533.08,960.50 1534.71,960.90C1536.33,961.30 1537.97,961.66 1539.61,961.95C1541.24,962.24 1542.89,962.47 1544.53,962.62C1546.17,962.77 1547.82,962.85 1549.47,962.86C1551.12,962.87 1552.76,962.81 1554.41,962.69C1556.06,962.58 1557.71,962.40 1559.36,962.19C1561.02,961.97 1562.67,961.70 1564.32,961.41C1565.97,961.12 1567.63,960.79 1569.28,960.44C1570.94,960.10 1572.59,959.72 1574.25,959.35C1575.90,958.98 1577.56,958.59 1579.22,958.21C1580.87,957.84 1582.53,957.45 1584.19,957.10C1585.85,956.74 1587.51,956.39 1589.16,956.08C1590.82,955.76 1592.48,955.47 1594.14,955.20C1595.80,954.93 1597.46,954.69 1599.12,954.47C1600.78,954.24 1602.44,954.04 1604.10,953.86C1605.76,953.68 1607.42,953.52 1609.08,953.38C1610.74,953.24 1612.40,953.11 1614.06,953.01C1615.72,952.90 1617.39,952.81 1619.05,952.74C1620.71,952.66 1622.37,952.60 1624.04,952.56C1625.70,952.51 1627.37,952.48 1629.03,952.46C1630.70,952.44 1632.36,952.43 1634.03,952.43C1635.69,952.43 1637.36,952.44 1639.03,952.46C1640.69,952.48 1642.36,952.51 1644.03,952.55C1645.70,952.58 1647.37,952.63 1649.04,952.67C1650.71,952.72 1652.38,952.77 1654.05,952.83C1655.72,952.89 1657.39,952.95 1659.06,953.01C1660.73,953.08 1662.41,953.15 1664.08,953.22C1665.75,953.29 1667.43,953.36 1669.10,953.43C1670.78,953.51 1672.45,953.58 1674.12,953.66C1675.80,953.74 1677.48,953.81 1679.15,953.89C1680.83,953.97 1682.50,954.04 1684.18,954.12C1685.86,954.19 1687.53,954.27 1689.21,954.34C1690.89,954.41 1692.56,954.49 1694.24,954.55C1695.92,954.62 1697.59,954.69 1699.27,954.75C1700.95,954.81 1702.63,954.87 1704.30,954.92C1705.98,954.97 1707.66,955.02 1709.33,955.06C1711.01,955.11 1712.69,955.15 1714.36,955.18C1716.04,955.21 1717.72,955.23 1719.39,955.25C1721.07,955.27 1722.75,955.28 1724.42,955.28C1726.10,955.29 1727.77,955.28 1729.45,955.27C1731.13,955.25 1732.80,955.23 1734.47,955.20C1736.15,955.16 1737.82,955.12 1739.50,955.07C1741.17,955.02 1742.84,954.95 1744.52,954.88C1746.19,954.80 1747.86,954.71 1749.53,954.61C1751.20,954.51 1752.88,954.40 1754.55,954.28C1756.22,954.16 1757.88,954.02 1759.55,953.87C1761.22,953.73 1762.89,953.58 1764.56,953.42C1766.23,953.27 1767.90,953.11 1769.56,952.95C1771.23,952.80 1772.90,952.64 1774.57,952.49C1776.23,952.34 1777.90,952.20 1779.57,952.06C1781.23,951.93 1782.90,951.80 1784.57,951.69C1786.24,951.58 1787.90,951.48 1789.57,951.40C1791.24,951.32 1792.91,951.26 1794.57,951.22C1796.24,951.19 1797.91,951.17 1799.58,951.18C1801.25,951.19 1802.92,951.25 1804.59,951.28C1806.26,951.32 1807.93,951.39 1809.59,951.40C1811.25,951.41 1812.91,951.41 1814.57,951.33C1816.22,951.25 1817.86,951.11 1819.51,950.90C1821.15,950.70 1822.78,950.41 1824.41,950.10C1826.04,949.79 1827.66,949.42 1829.28,949.05C1830.91,948.68 1832.53,948.27 1834.15,947.89C1835.77,947.50 1837.39,947.10 1839.01,946.74C1840.64,946.39 1842.26,946.03 1843.89,945.75C1845.52,945.46 1847.15,945.21 1848.79,945.03C1850.43,944.85 1852.08,944.74 1853.73,944.68C1855.38,944.62 1857.03,944.62 1858.69,944.65C1860.35,944.69 1862.01,944.78 1863.68,944.88C1865.35,944.99 1867.02,945.14 1868.69,945.30C1870.36,945.46 1872.04,945.66 1873.72,945.84C1875.39,946.03 1877.07,946.24 1878.75,946.44C1880.43,946.63 1882.12,946.84 1883.80,947.02C1885.48,947.19 1887.16,947.37 1888.84,947.51C1890.52,947.65 1892.20,947.77 1893.88,947.85C1895.56,947.93 1897.23,947.98 1898.91,947.98C1900.58,947.99 1902.25,947.95 1903.93,947.88C1905.60,947.82 1907.27,947.72 1908.93,947.59C1910.60,947.47 1912.27,947.32 1913.94,947.15C1915.60,946.98 1917.27,946.78 1918.93,946.57C1920.59,946.37 1922.26,946.14 1923.92,945.91C1925.58,945.68 1927.24,945.43 1928.90,945.19C1930.56,944.94 1932.22,944.69 1933.88,944.44C1935.54,944.20 1937.20,943.94 1938.86,943.71C1940.52,943.47 1942.18,943.24 1943.84,943.02C1945.50,942.80 1947.16,942.59 1948.82,942.41C1950.48,942.22 1952.97,941.99 1953.80,941.91" fill="none" stroke="#00ffff" stroke-width="5.5" stroke-linejoin="round" stroke-linecap="butt"/>
<line x1="474.7" y1="120.1" x2="477.6" y2="1287.1" stroke="#0000ff" stroke-width="6" stroke-linecap="round" stroke-dasharray="25.00 35.08"/>
<line x1="895.3" y1="112.9" x2="898.7" y2="1280.6" stroke="#0000ff" stroke-width="6" stroke-linecap="round" stroke-dasharray="25.00 35.14"/>
<line x1="1258.7" y1="110.2" x2="1261.3" y2="1277.9" stroke="#0000ff" stroke-width="6" stroke-linecap="round" stroke-dasharray="25.00 35.15"/>
<line x1="1493.9" y1="110.2" x2="1496.8" y2="1277.9" stroke="#0000ff" stroke-width="6" stroke-linecap="round" stroke-dasharray="25.00 35.15"/>
<rect x="284.0" y="58.5" width="1712.0" height="1266.5" fill="none" stroke="#000" stroke-width="4.6"/>
<line x1="257" y1="1240.6" x2="284.0" y2="1240.6" stroke="#000" stroke-width="4.2"/>
<line x1="257" y1="1071.7" x2="284.0" y2="1071.7" stroke="#000" stroke-width="4.2"/>
<line x1="257" y1="902.8" x2="284.0" y2="902.8" stroke="#000" stroke-width="4.2"/>
<line x1="257" y1="734.0" x2="284.0" y2="734.0" stroke="#000" stroke-width="4.2"/>
<line x1="257" y1="565.1" x2="284.0" y2="565.1" stroke="#000" stroke-width="4.2"/>
<line x1="257" y1="396.2" x2="284.0" y2="396.2" stroke="#000" stroke-width="4.2"/>
<line x1="257" y1="227.4" x2="284.0" y2="227.4" stroke="#000" stroke-width="4.2"/>
<line x1="257" y1="58.5" x2="284.0" y2="58.5" stroke="#000" stroke-width="4.2"/>
<line x1="270" y1="1325.0" x2="284.0" y2="1325.0" stroke="#000" stroke-width="4.2"/>
<line x1="270" y1="1156.1" x2="284.0" y2="1156.1" stroke="#000" stroke-width="4.2"/>
<line x1="270" y1="987.3" x2="284.0" y2="987.3" stroke="#000" stroke-width="4.2"/>
<line x1="270" y1="818.4" x2="284.0" y2="818.4" stroke="#000" stroke-width="4.2"/>
<line x1="270" y1="649.5" x2="284.0" y2="649.5" stroke="#000" stroke-width="4.2"/>
<line x1="270" y1="480.7" x2="284.0" y2="480.7" stroke="#000" stroke-width="4.2"/>
<line x1="270" y1="311.8" x2="284.0" y2="311.8" stroke="#000" stroke-width="4.2"/>
<line x1="270" y1="142.9" x2="284.0" y2="142.9" stroke="#000" stroke-width="4.2"/>
<line x1="464.2" y1="1325.0" x2="464.2" y2="1351.5" stroke="#000" stroke-width="4.2"/>
<line x1="914.7" y1="1325.0" x2="914.7" y2="1351.5" stroke="#000" stroke-width="4.2"/>
<line x1="1365.3" y1="1325.0" x2="1365.3" y2="1351.5" stroke="#000" stroke-width="4.2"/>
<line x1="1815.8" y1="1325.0" x2="1815.8" y2="1351.5" stroke="#000" stroke-width="4.2"/>
<line x1="689.5" y1="1325.0" x2="689.5" y2="1338.5" stroke="#000" stroke-width="4.2"/>
<line x1="1140.0" y1="1325.0" x2="1140.0" y2="1338.5" stroke="#000" stroke-width="4.2"/>
<line x1="1590.5" y1="1325.0" x2="1590.5" y2="1338.5" stroke="#000" stroke-width="4.2"/>
<text x="243" y="1253.1" font-family="'Liberation Sans', Arial, sans-serif" font-size="50" text-anchor="end">-3</text>
<text x="243" y="1084.2" font-family="'Liberation Sans', Arial, sans-serif" font-size="50" text-anchor="end">0</text>
<text x="243" y="915.3" font-family="'Liberation Sans', Arial, sans-serif" font-size="50" text-anchor="end">3</text>
<text x="243" y="746.5" font-family="'Liberation Sans', Arial, sans-serif" font-size="50" text-anchor="end">6</text>
<text x="243" y="577.6" font-family="'Liberation Sans', Arial, sans-serif" font-size="50" text-anchor="end">9</text>
<text x="243" y="408.7" font-family="'Liberation Sans', Arial, sans-serif" font-size="50" text-anchor="end">12</text>
<text x="243" y="239.9" font-family="'Liberation Sans', Arial, sans-serif" font-size="50" text-anchor="end">15</text>
<text x="243" y="71.0" font-family="'Liberation Sans', Arial, sans-serif" font-size="50" text-anchor="end">18</text>
<text x="464.2" y="1404.7" font-family="'Liberation Sans', Arial, sans-serif" font-size="50" text-anchor="middle">50</text>
<text x="914.7" y="1404.7" font-family="'Liberation Sans', Arial, sans-serif" font-size="50" text-anchor="middle">100</text>
<text x="1365.3" y="1404.7" font-family="'Liberation Sans', Arial, sans-serif" font-size="50" text-anchor="middle">150</text>
<text x="1815.8" y="1404.7" font-family="'Liberation Sans', Arial, sans-serif" font-size="50" text-anchor="middle">200</text>
<text x="993.5" y="1502.5" font-family="'Liberation Sans', Arial, sans-serif" font-size="60" letter-spacing="0.9">Time (min)</text>
<text transform="translate(88,833) rotate(-90)" font-family="'Liberation Sans', Arial, sans-serif" font-size="52">Δ</text>
<text transform="translate(88,799.3) rotate(-90) skewX(-12)" font-family="'Liberation Sans', Arial, sans-serif" font-size="60">D</text>
<text transform="translate(88,739.5) rotate(-90)" font-family="'Liberation Sans', Arial, sans-serif" font-size="60">(10<tspan font-size="34" dy="-33">-6</tspan><tspan dy="33" dx="3">)</tspan></text>
<text x="390.0" y="142" font-family="'Liberation Serif', 'Times New Roman', serif" font-size="50" font-weight="bold" font-style="italic" text-anchor="middle">(1)</text>
<text x="390.0" y="203.5" font-family="'Liberation Serif', 'Times New Roman', serif" font-size="50" font-weight="bold" font-style="italic" text-anchor="middle">Buffer</text>
<text x="666.5" y="142" font-family="'Liberation Serif', 'Times New Roman', serif" font-size="50" font-weight="bold" font-style="italic" text-anchor="middle">(2)</text>
<text x="664.0" y="203.5" font-family="'Liberation Serif', 'Times New Roman', serif" font-size="50" font-weight="bold" font-style="italic" text-anchor="middle">β-casein</text>
<text x="1077.0" y="142" font-family="'Liberation Serif', 'Times New Roman', serif" font-size="50" font-weight="bold" font-style="italic" text-anchor="middle">(3)</text>
<text x="1072.0" y="203.5" font-family="'Liberation Serif', 'Times New Roman', serif" font-size="50" font-weight="bold" font-style="italic" text-anchor="middle">Buffer</text>
<text x="1378.0" y="142" font-family="'Liberation Serif', 'Times New Roman', serif" font-size="50" font-weight="bold" font-style="italic" text-anchor="middle">(4)</text>
<text x="1380.0" y="203.5" font-family="'Liberation Serif', 'Times New Roman', serif" font-size="50" font-weight="bold" font-style="italic" text-anchor="middle">Plasmin</text>
<text x="1690.0" y="142" font-family="'Liberation Serif', 'Times New Roman', serif" font-size="50" font-weight="bold" font-style="italic" text-anchor="middle">(5)</text>
<text x="1698.6" y="203.5" font-family="'Liberation Serif', 'Times New Roman', serif" font-size="50" font-weight="bold" font-style="italic" text-anchor="middle">Buffer</text>
<rect x="1538" y="378.5" width="400" height="280" fill="#fff" stroke="#222" stroke-width="2.2"/>
<line x1="1562.3" y1="418.5" x2="1661.4" y2="418.5" stroke="#000" stroke-width="5.6" stroke-linecap="round"/>
<text x="1672" y="433.1" font-family="'Liberation Sans', Arial, sans-serif" font-size="44">Fundamental</text>
<line x1="1562.3" y1="472.1" x2="1661.4" y2="472.1" stroke="#ff0000" stroke-width="5.6" stroke-linecap="round"/>
<text x="1672" y="486.7" font-family="'Liberation Sans', Arial, sans-serif" font-size="44">3rd overtone</text>
<line x1="1562.3" y1="525.7" x2="1661.4" y2="525.7" stroke="#00ff00" stroke-width="5.6" stroke-linecap="round"/>
<text x="1672" y="540.3" font-family="'Liberation Sans', Arial, sans-serif" font-size="44">5th overtone</text>
<line x1="1562.3" y1="579.3" x2="1661.4" y2="579.3" stroke="#0000ff" stroke-width="5.6" stroke-linecap="round"/>
<text x="1672" y="593.9" font-family="'Liberation Sans', Arial, sans-serif" font-size="44">7th overtone</text>
<line x1="1562.3" y1="632.9" x2="1661.4" y2="632.9" stroke="#00ffff" stroke-width="5.6" stroke-linecap="round"/>
<text x="1672" y="647.5" font-family="'Liberation Sans', Arial, sans-serif" font-size="44">9th overtone</text>
</svg></body></html>
